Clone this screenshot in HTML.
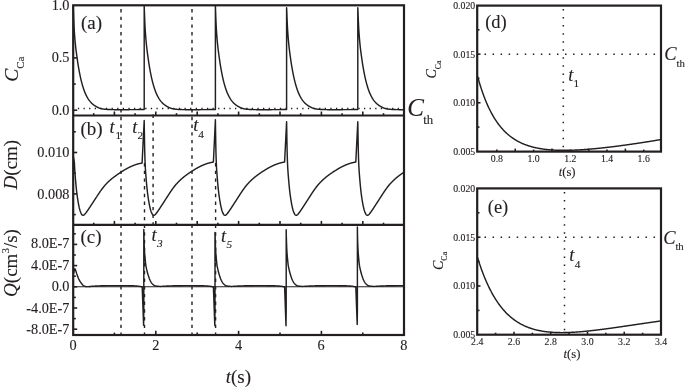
<!DOCTYPE html>
<html><head><meta charset="utf-8"><style>
html,body{margin:0;padding:0;background:#fff;}
svg{display:block;}
text{font-family:"Liberation Serif","DejaVu Serif",serif;fill:#231f20;stroke:#231f20;stroke-width:0.12px;}
</style></head><body>
<svg width="685" height="387" viewBox="0 0 685 387">
<rect width="685" height="387" fill="#fff"/>
<rect x="73.2" y="5.3" width="330.8" height="329.7" fill="none" stroke="#231f20" stroke-width="2.2"/>
<line x1="73.2" y1="115.5" x2="404" y2="115.5" stroke="#231f20" stroke-width="2.2" />
<line x1="73.2" y1="224.9" x2="404" y2="224.9" stroke="#231f20" stroke-width="2.2" />
<line x1="121" y1="9" x2="121" y2="334" stroke="#231f20" stroke-width="1.4" stroke-dasharray="3.4 4.3"/>
<line x1="192" y1="9" x2="192" y2="334" stroke="#231f20" stroke-width="1.4" stroke-dasharray="3.4 4.3"/>
<line x1="144.5" y1="163" x2="144.5" y2="334" stroke="#231f20" stroke-width="1.4" stroke-dasharray="3.4 4.3" stroke-dashoffset="7.7"/>
<line x1="215.6" y1="163" x2="215.6" y2="334" stroke="#231f20" stroke-width="1.4" stroke-dasharray="3.4 4.3" stroke-dashoffset="7.7"/>
<line x1="153.1" y1="114.5" x2="153.1" y2="223.9" stroke="#231f20" stroke-width="1.4" stroke-dasharray="3.4 4.3"/>
<line x1="77.88" y1="108.5" x2="403" y2="108.5" stroke="#231f20" stroke-width="1.35" stroke-dasharray="1.3 4.31"/>
<line x1="73.2" y1="110.2" x2="77.2" y2="110.2" stroke="#231f20" stroke-width="1.6" />
<line x1="73.2" y1="84.05" x2="75.8" y2="84.05" stroke="#231f20" stroke-width="1.6" />
<line x1="73.2" y1="57.9" x2="77.2" y2="57.9" stroke="#231f20" stroke-width="1.6" />
<line x1="93.7" y1="115.5" x2="93.7" y2="113.2" stroke="#231f20" stroke-width="1.6" />
<line x1="114.4" y1="115.5" x2="114.4" y2="111.5" stroke="#231f20" stroke-width="1.6" />
<line x1="135.1" y1="115.5" x2="135.1" y2="113.2" stroke="#231f20" stroke-width="1.6" />
<line x1="155.8" y1="115.5" x2="155.8" y2="111.5" stroke="#231f20" stroke-width="1.6" />
<line x1="176.5" y1="115.5" x2="176.5" y2="113.2" stroke="#231f20" stroke-width="1.6" />
<line x1="197.2" y1="115.5" x2="197.2" y2="111.5" stroke="#231f20" stroke-width="1.6" />
<line x1="217.9" y1="115.5" x2="217.9" y2="113.2" stroke="#231f20" stroke-width="1.6" />
<line x1="238.6" y1="115.5" x2="238.6" y2="111.5" stroke="#231f20" stroke-width="1.6" />
<line x1="259.3" y1="115.5" x2="259.3" y2="113.2" stroke="#231f20" stroke-width="1.6" />
<line x1="280" y1="115.5" x2="280" y2="111.5" stroke="#231f20" stroke-width="1.6" />
<line x1="300.7" y1="115.5" x2="300.7" y2="113.2" stroke="#231f20" stroke-width="1.6" />
<line x1="321.4" y1="115.5" x2="321.4" y2="111.5" stroke="#231f20" stroke-width="1.6" />
<line x1="342.1" y1="115.5" x2="342.1" y2="113.2" stroke="#231f20" stroke-width="1.6" />
<line x1="362.8" y1="115.5" x2="362.8" y2="111.5" stroke="#231f20" stroke-width="1.6" />
<line x1="383.5" y1="115.5" x2="383.5" y2="113.2" stroke="#231f20" stroke-width="1.6" />
<line x1="73.2" y1="214.6" x2="75.8" y2="214.6" stroke="#231f20" stroke-width="1.6" />
<line x1="73.2" y1="193.9" x2="77.2" y2="193.9" stroke="#231f20" stroke-width="1.6" />
<line x1="73.2" y1="173.2" x2="75.8" y2="173.2" stroke="#231f20" stroke-width="1.6" />
<line x1="73.2" y1="152.5" x2="77.2" y2="152.5" stroke="#231f20" stroke-width="1.6" />
<line x1="73.2" y1="131.8" x2="75.8" y2="131.8" stroke="#231f20" stroke-width="1.6" />
<line x1="93.7" y1="224.9" x2="93.7" y2="222.7" stroke="#231f20" stroke-width="1.6" />
<line x1="114.4" y1="224.9" x2="114.4" y2="220.9" stroke="#231f20" stroke-width="1.6" />
<line x1="135.1" y1="224.9" x2="135.1" y2="222.7" stroke="#231f20" stroke-width="1.6" />
<line x1="155.8" y1="224.9" x2="155.8" y2="220.9" stroke="#231f20" stroke-width="1.6" />
<line x1="176.5" y1="224.9" x2="176.5" y2="222.7" stroke="#231f20" stroke-width="1.6" />
<line x1="197.2" y1="224.9" x2="197.2" y2="220.9" stroke="#231f20" stroke-width="1.6" />
<line x1="217.9" y1="224.9" x2="217.9" y2="222.7" stroke="#231f20" stroke-width="1.6" />
<line x1="238.6" y1="224.9" x2="238.6" y2="220.9" stroke="#231f20" stroke-width="1.6" />
<line x1="259.3" y1="224.9" x2="259.3" y2="222.7" stroke="#231f20" stroke-width="1.6" />
<line x1="280" y1="224.9" x2="280" y2="220.9" stroke="#231f20" stroke-width="1.6" />
<line x1="300.7" y1="224.9" x2="300.7" y2="222.7" stroke="#231f20" stroke-width="1.6" />
<line x1="321.4" y1="224.9" x2="321.4" y2="220.9" stroke="#231f20" stroke-width="1.6" />
<line x1="342.1" y1="224.9" x2="342.1" y2="222.7" stroke="#231f20" stroke-width="1.6" />
<line x1="362.8" y1="224.9" x2="362.8" y2="220.9" stroke="#231f20" stroke-width="1.6" />
<line x1="383.5" y1="224.9" x2="383.5" y2="222.7" stroke="#231f20" stroke-width="1.6" />
<line x1="73.2" y1="329.2" x2="77.2" y2="329.2" stroke="#231f20" stroke-width="1.6" />
<line x1="73.2" y1="318.6" x2="75.8" y2="318.6" stroke="#231f20" stroke-width="1.6" />
<line x1="73.2" y1="308" x2="77.2" y2="308" stroke="#231f20" stroke-width="1.6" />
<line x1="73.2" y1="297.4" x2="75.8" y2="297.4" stroke="#231f20" stroke-width="1.6" />
<line x1="73.2" y1="286.8" x2="77.2" y2="286.8" stroke="#231f20" stroke-width="1.6" />
<line x1="73.2" y1="276.2" x2="75.8" y2="276.2" stroke="#231f20" stroke-width="1.6" />
<line x1="73.2" y1="265.6" x2="77.2" y2="265.6" stroke="#231f20" stroke-width="1.6" />
<line x1="73.2" y1="255" x2="75.8" y2="255" stroke="#231f20" stroke-width="1.6" />
<line x1="73.2" y1="244.4" x2="77.2" y2="244.4" stroke="#231f20" stroke-width="1.6" />
<line x1="73.2" y1="233.8" x2="75.8" y2="233.8" stroke="#231f20" stroke-width="1.6" />
<line x1="114.4" y1="335" x2="114.4" y2="332.6" stroke="#231f20" stroke-width="1.6" />
<line x1="155.8" y1="335" x2="155.8" y2="330.8" stroke="#231f20" stroke-width="1.6" />
<line x1="197.2" y1="335" x2="197.2" y2="332.6" stroke="#231f20" stroke-width="1.6" />
<line x1="238.6" y1="335" x2="238.6" y2="330.8" stroke="#231f20" stroke-width="1.6" />
<line x1="280" y1="335" x2="280" y2="332.6" stroke="#231f20" stroke-width="1.6" />
<line x1="321.4" y1="335" x2="321.4" y2="330.8" stroke="#231f20" stroke-width="1.6" />
<line x1="362.8" y1="335" x2="362.8" y2="332.6" stroke="#231f20" stroke-width="1.6" />
<path d="M73.2 5.6 L73.4 11.27 L73.6 16.75 L73.8 21.74 L74 25.99 L74.2 29.51 L74.4 32.61 L74.6 35.39 L74.8 37.91 L75 40.24 L75.2 42.41 L75.4 44.42 L75.6 46.3 L75.8 48.07 L76 49.75 L76.2 51.35 L76.4 52.89 L76.6 54.37 L76.8 55.83 L77 57.26 L77.2 58.67 L77.4 60.07 L77.6 61.44 L77.8 62.77 L78 64.06 L78.2 65.31 L78.4 66.53 L78.6 67.72 L78.8 68.87 L79 69.99 L79.2 71.08 L79.4 72.15 L79.6 73.18 L79.8 74.18 L80 75.16 L80.2 76.11 L80.4 77.04 L80.6 77.94 L80.8 78.82 L81 79.67 L81.2 80.51 L81.4 81.32 L81.6 82.11 L81.8 82.87 L82 83.62 L82.2 84.35 L82.4 85.05 L82.6 85.74 L82.8 86.41 L83 87.06 L83.2 87.69 L83.4 88.31 L83.6 88.91 L83.8 89.49 L84 90.06 L84.2 90.61 L84.4 91.14 L84.6 91.67 L84.8 92.17 L85 92.66 L85.2 93.14 L85.4 93.61 L85.6 94.06 L85.8 94.5 L86 94.93 L86.2 95.34 L86.4 95.74 L86.6 96.13 L86.8 96.51 L87 96.88 L87.2 97.24 L87.4 97.59 L87.6 97.93 L87.8 98.26 L88 98.59 L88.2 98.9 L88.4 99.21 L88.6 99.5 L88.8 99.79 L89 100.08 L89.2 100.35 L89.4 100.62 L89.6 100.88 L89.8 101.14 L90 101.38 L90.2 101.63 L90.4 101.86 L90.6 102.09 L90.8 102.32 L91 102.53 L91.2 102.74 L91.4 102.95 L91.6 103.14 L91.8 103.34 L92 103.52 L92.2 103.71 L92.4 103.89 L92.6 104.06 L92.8 104.23 L93 104.39 L93.2 104.55 L93.4 104.71 L93.6 104.86 L93.8 105.01 L94 105.16 L94.2 105.3 L94.4 105.44 L94.6 105.58 L94.8 105.71 L95 105.84 L95.2 105.97 L95.4 106.09 L95.6 106.21 L95.8 106.33 L96 106.45 L96.2 106.57 L96.4 106.68 L96.6 106.79 L96.8 106.9 L97 107 L97.2 107.11 L97.4 107.21 L97.6 107.31 L97.8 107.4 L98 107.49 L98.2 107.59 L98.4 107.67 L98.6 107.76 L98.8 107.84 L99 107.92 L99.2 108 L99.4 108.07 L99.6 108.14 L99.8 108.21 L100 108.28 L100.2 108.35 L100.4 108.41 L100.6 108.48 L100.8 108.54 L101 108.6 L101.2 108.66 L101.4 108.71 L101.6 108.76 L101.8 108.81 L102 108.86 L102.2 108.9 L102.4 108.93 L102.6 108.97 L102.8 109 L103 109.03 L103.2 109.06 L103.4 109.08 L103.6 109.11 L103.8 109.13 L104 109.15 L104.2 109.17 L104.4 109.19 L104.6 109.21 L104.8 109.23 L105 109.25 L105.2 109.27 L105.4 109.29 L105.6 109.3 L105.8 109.32 L106 109.34 L106.2 109.35 L106.4 109.37 L106.6 109.39 L106.8 109.4 L107 109.42 L107.2 109.43 L107.4 109.44 L107.6 109.45 L107.8 109.47 L108 109.48 L108.2 109.49 L108.4 109.5 L108.6 109.51 L108.8 109.51 L109 109.52 L109.2 109.53 L109.4 109.54 L109.6 109.55 L109.8 109.56 L110 109.56 L110.2 109.57 L110.4 109.58 L110.6 109.58 L110.8 109.59 L111 109.59 L111.2 109.6 L111.4 109.6 L111.6 109.61 L111.8 109.61 L112 109.61 L112.2 109.62 L112.4 109.62 L112.6 109.63 L112.8 109.63 L113 109.63 L113.2 109.64 L113.4 109.64 L113.6 109.64 L113.8 109.64 L114 109.65 L114.2 109.65 L114.4 109.65 L114.6 109.65 L114.8 109.65 L115 109.66 L115.2 109.66 L115.4 109.66 L115.6 109.66 L115.8 109.66 L116 109.66 L116.2 109.66 L116.4 109.66 L116.6 109.66 L116.8 109.67 L117 109.67 L117.2 109.67 L117.4 109.67 L117.6 109.67 L117.8 109.67 L118 109.67 L118.2 109.67 L118.4 109.67 L118.6 109.67 L118.8 109.67 L119 109.67 L119.2 109.67 L119.4 109.67 L119.6 109.67 L119.8 109.67 L120 109.67 L120.2 109.67 L120.4 109.67 L120.6 109.67 L120.8 109.67 L121 109.67 L121.2 109.67 L121.4 109.67 L121.6 109.67 L121.8 109.67 L122 109.67 L122.2 109.67 L122.4 109.67 L122.6 109.67 L122.8 109.67 L123 109.67 L123.2 109.67 L123.4 109.67 L123.6 109.67 L123.8 109.67 L124 109.67 L124.2 109.67 L124.4 109.67 L124.6 109.67 L124.8 109.67 L125 109.67 L125.2 109.66 L125.4 109.66 L125.6 109.66 L125.8 109.66 L126 109.66 L126.2 109.66 L126.4 109.66 L126.6 109.66 L126.8 109.66 L127 109.66 L127.2 109.66 L127.4 109.65 L127.6 109.65 L127.8 109.65 L128 109.65 L128.2 109.65 L128.4 109.65 L128.6 109.65 L128.8 109.65 L129 109.65 L129.2 109.65 L129.4 109.65 L129.6 109.64 L129.8 109.64 L130 109.64 L130.2 109.64 L130.4 109.64 L130.6 109.64 L130.8 109.64 L131 109.64 L131.2 109.64 L131.4 109.63 L131.6 109.63 L131.8 109.63 L132 109.63 L132.2 109.63 L132.4 109.63 L132.6 109.63 L132.8 109.63 L133 109.62 L133.2 109.62 L133.4 109.62 L133.6 109.62 L133.8 109.62 L134 109.62 L134.2 109.62 L134.4 109.61 L134.6 109.61 L134.8 109.61 L135 109.61 L135.2 109.61 L135.4 109.61 L135.6 109.61 L135.8 109.61 L136 109.6 L136.2 109.6 L136.4 109.6 L136.6 109.6 L136.8 109.6 L137 109.6 L137.2 109.6 L137.4 109.6 L137.6 109.59 L137.8 109.59 L138 109.59 L138.2 109.59 L138.4 109.59 L138.6 109.59 L138.8 109.59 L139 109.58 L139.2 109.58 L139.4 109.58 L139.6 109.58 L139.8 109.58 L140 109.58 L140.2 109.58 L140.4 109.57 L140.6 109.57 L140.8 109.57 L141 109.57 L141.2 109.57 L141.4 109.57 L141.6 109.57 L141.8 109.56 L142 109.56 L142.2 109.56 L142.4 109.56 L142.6 109.56 L142.8 109.56 L143 109.56 L143.2 109.55 L143.4 109.55 L143.6 109.55 L143.8 109.55 L144 109.55 L144.2 109.55 L144.2 6.12 L144.4 11.27 L144.6 16.75 L144.8 21.74 L145 25.99 L145.2 29.51 L145.4 32.61 L145.6 35.39 L145.8 37.91 L146 40.24 L146.2 42.41 L146.4 44.42 L146.6 46.3 L146.8 48.07 L147 49.75 L147.2 51.35 L147.4 52.89 L147.6 54.37 L147.8 55.83 L148 57.26 L148.2 58.67 L148.4 60.07 L148.6 61.44 L148.8 62.77 L149 64.06 L149.2 65.31 L149.4 66.53 L149.6 67.72 L149.8 68.87 L150 69.99 L150.2 71.08 L150.4 72.15 L150.6 73.18 L150.8 74.18 L151 75.16 L151.2 76.11 L151.4 77.04 L151.6 77.94 L151.8 78.82 L152 79.67 L152.2 80.51 L152.4 81.32 L152.6 82.11 L152.8 82.87 L153 83.62 L153.2 84.35 L153.4 85.05 L153.6 85.74 L153.8 86.41 L154 87.06 L154.2 87.69 L154.4 88.31 L154.6 88.91 L154.8 89.49 L155 90.06 L155.2 90.61 L155.4 91.14 L155.6 91.67 L155.8 92.17 L156 92.66 L156.2 93.14 L156.4 93.61 L156.6 94.06 L156.8 94.5 L157 94.93 L157.2 95.34 L157.4 95.74 L157.6 96.13 L157.8 96.51 L158 96.88 L158.2 97.24 L158.4 97.59 L158.6 97.93 L158.8 98.26 L159 98.59 L159.2 98.9 L159.4 99.21 L159.6 99.5 L159.8 99.79 L160 100.08 L160.2 100.35 L160.4 100.62 L160.6 100.88 L160.8 101.14 L161 101.38 L161.2 101.63 L161.4 101.86 L161.6 102.09 L161.8 102.32 L162 102.53 L162.2 102.74 L162.4 102.95 L162.6 103.14 L162.8 103.34 L163 103.52 L163.2 103.71 L163.4 103.89 L163.6 104.06 L163.8 104.23 L164 104.39 L164.2 104.55 L164.4 104.71 L164.6 104.86 L164.8 105.01 L165 105.16 L165.2 105.3 L165.4 105.44 L165.6 105.58 L165.8 105.71 L166 105.84 L166.2 105.97 L166.4 106.09 L166.6 106.21 L166.8 106.33 L167 106.45 L167.2 106.57 L167.4 106.68 L167.6 106.79 L167.8 106.9 L168 107 L168.2 107.11 L168.4 107.21 L168.6 107.31 L168.8 107.4 L169 107.49 L169.2 107.59 L169.4 107.67 L169.6 107.76 L169.8 107.84 L170 107.92 L170.2 108 L170.4 108.07 L170.6 108.14 L170.8 108.21 L171 108.28 L171.2 108.35 L171.4 108.41 L171.6 108.48 L171.8 108.54 L172 108.6 L172.2 108.66 L172.4 108.71 L172.6 108.76 L172.8 108.81 L173 108.86 L173.2 108.9 L173.4 108.93 L173.6 108.97 L173.8 109 L174 109.03 L174.2 109.06 L174.4 109.08 L174.6 109.11 L174.8 109.13 L175 109.15 L175.2 109.17 L175.4 109.19 L175.6 109.21 L175.8 109.23 L176 109.25 L176.2 109.27 L176.4 109.29 L176.6 109.3 L176.8 109.32 L177 109.34 L177.2 109.35 L177.4 109.37 L177.6 109.39 L177.8 109.4 L178 109.42 L178.2 109.43 L178.4 109.44 L178.6 109.45 L178.8 109.47 L179 109.48 L179.2 109.49 L179.4 109.5 L179.6 109.51 L179.8 109.51 L180 109.52 L180.2 109.53 L180.4 109.54 L180.6 109.55 L180.8 109.56 L181 109.56 L181.2 109.57 L181.4 109.58 L181.6 109.58 L181.8 109.59 L182 109.59 L182.2 109.6 L182.4 109.6 L182.6 109.61 L182.8 109.61 L183 109.61 L183.2 109.62 L183.4 109.62 L183.6 109.63 L183.8 109.63 L184 109.63 L184.2 109.64 L184.4 109.64 L184.6 109.64 L184.8 109.64 L185 109.65 L185.2 109.65 L185.4 109.65 L185.6 109.65 L185.8 109.65 L186 109.66 L186.2 109.66 L186.4 109.66 L186.6 109.66 L186.8 109.66 L187 109.66 L187.2 109.66 L187.4 109.66 L187.6 109.66 L187.8 109.67 L188 109.67 L188.2 109.67 L188.4 109.67 L188.6 109.67 L188.8 109.67 L189 109.67 L189.2 109.67 L189.4 109.67 L189.6 109.67 L189.8 109.67 L190 109.67 L190.2 109.67 L190.4 109.67 L190.6 109.67 L190.8 109.67 L191 109.67 L191.2 109.67 L191.4 109.67 L191.6 109.67 L191.8 109.67 L192 109.67 L192.2 109.67 L192.4 109.67 L192.6 109.67 L192.8 109.67 L193 109.67 L193.2 109.67 L193.4 109.67 L193.6 109.67 L193.8 109.67 L194 109.67 L194.2 109.67 L194.4 109.67 L194.6 109.67 L194.8 109.67 L195 109.67 L195.2 109.67 L195.4 109.67 L195.6 109.67 L195.8 109.67 L196 109.67 L196.2 109.66 L196.4 109.66 L196.6 109.66 L196.8 109.66 L197 109.66 L197.2 109.66 L197.4 109.66 L197.6 109.66 L197.8 109.66 L198 109.66 L198.2 109.66 L198.4 109.65 L198.6 109.65 L198.8 109.65 L199 109.65 L199.2 109.65 L199.4 109.65 L199.6 109.65 L199.8 109.65 L200 109.65 L200.2 109.65 L200.4 109.65 L200.6 109.64 L200.8 109.64 L201 109.64 L201.2 109.64 L201.4 109.64 L201.6 109.64 L201.8 109.64 L202 109.64 L202.2 109.64 L202.4 109.63 L202.6 109.63 L202.8 109.63 L203 109.63 L203.2 109.63 L203.4 109.63 L203.6 109.63 L203.8 109.63 L204 109.62 L204.2 109.62 L204.4 109.62 L204.6 109.62 L204.8 109.62 L205 109.62 L205.2 109.62 L205.4 109.61 L205.6 109.61 L205.8 109.61 L206 109.61 L206.2 109.61 L206.4 109.61 L206.6 109.61 L206.8 109.61 L207 109.6 L207.2 109.6 L207.4 109.6 L207.6 109.6 L207.8 109.6 L208 109.6 L208.2 109.6 L208.4 109.6 L208.6 109.59 L208.8 109.59 L209 109.59 L209.2 109.59 L209.4 109.59 L209.6 109.59 L209.8 109.59 L210 109.58 L210.2 109.58 L210.4 109.58 L210.6 109.58 L210.8 109.58 L211 109.58 L211.2 109.58 L211.4 109.57 L211.6 109.57 L211.8 109.57 L212 109.57 L212.2 109.57 L212.4 109.57 L212.6 109.57 L212.8 109.56 L213 109.56 L213.2 109.56 L213.4 109.56 L213.6 109.56 L213.8 109.56 L214 109.56 L214.2 109.55 L214.4 109.55 L214.6 109.55 L214.8 109.55 L215 109.55 L215.2 109.55 L215.4 109.55 L215.4 6.12 L215.6 11.27 L215.8 16.75 L216 21.74 L216.2 25.99 L216.4 29.51 L216.6 32.61 L216.8 35.39 L217 37.91 L217.2 40.24 L217.4 42.41 L217.6 44.42 L217.8 46.3 L218 48.07 L218.2 49.75 L218.4 51.35 L218.6 52.89 L218.8 54.37 L219 55.83 L219.2 57.26 L219.4 58.67 L219.6 60.07 L219.8 61.44 L220 62.77 L220.2 64.06 L220.4 65.31 L220.6 66.53 L220.8 67.72 L221 68.87 L221.2 69.99 L221.4 71.08 L221.6 72.15 L221.8 73.18 L222 74.18 L222.2 75.16 L222.4 76.11 L222.6 77.04 L222.8 77.94 L223 78.82 L223.2 79.67 L223.4 80.51 L223.6 81.32 L223.8 82.11 L224 82.87 L224.2 83.62 L224.4 84.35 L224.6 85.05 L224.8 85.74 L225 86.41 L225.2 87.06 L225.4 87.69 L225.6 88.31 L225.8 88.91 L226 89.49 L226.2 90.06 L226.4 90.61 L226.6 91.14 L226.8 91.67 L227 92.17 L227.2 92.66 L227.4 93.14 L227.6 93.61 L227.8 94.06 L228 94.5 L228.2 94.93 L228.4 95.34 L228.6 95.74 L228.8 96.13 L229 96.51 L229.2 96.88 L229.4 97.24 L229.6 97.59 L229.8 97.93 L230 98.26 L230.2 98.59 L230.4 98.9 L230.6 99.21 L230.8 99.5 L231 99.79 L231.2 100.08 L231.4 100.35 L231.6 100.62 L231.8 100.88 L232 101.14 L232.2 101.38 L232.4 101.63 L232.6 101.86 L232.8 102.09 L233 102.32 L233.2 102.53 L233.4 102.74 L233.6 102.95 L233.8 103.14 L234 103.34 L234.2 103.52 L234.4 103.71 L234.6 103.89 L234.8 104.06 L235 104.23 L235.2 104.39 L235.4 104.55 L235.6 104.71 L235.8 104.86 L236 105.01 L236.2 105.16 L236.4 105.3 L236.6 105.44 L236.8 105.58 L237 105.71 L237.2 105.84 L237.4 105.97 L237.6 106.09 L237.8 106.21 L238 106.33 L238.2 106.45 L238.4 106.57 L238.6 106.68 L238.8 106.79 L239 106.9 L239.2 107 L239.4 107.11 L239.6 107.21 L239.8 107.31 L240 107.4 L240.2 107.49 L240.4 107.59 L240.6 107.67 L240.8 107.76 L241 107.84 L241.2 107.92 L241.4 108 L241.6 108.07 L241.8 108.14 L242 108.21 L242.2 108.28 L242.4 108.35 L242.6 108.41 L242.8 108.48 L243 108.54 L243.2 108.6 L243.4 108.66 L243.6 108.71 L243.8 108.76 L244 108.81 L244.2 108.86 L244.4 108.9 L244.6 108.93 L244.8 108.97 L245 109 L245.2 109.03 L245.4 109.06 L245.6 109.08 L245.8 109.11 L246 109.13 L246.2 109.15 L246.4 109.17 L246.6 109.19 L246.8 109.21 L247 109.23 L247.2 109.25 L247.4 109.27 L247.6 109.29 L247.8 109.3 L248 109.32 L248.2 109.34 L248.4 109.35 L248.6 109.37 L248.8 109.39 L249 109.4 L249.2 109.42 L249.4 109.43 L249.6 109.44 L249.8 109.45 L250 109.47 L250.2 109.48 L250.4 109.49 L250.6 109.5 L250.8 109.51 L251 109.51 L251.2 109.52 L251.4 109.53 L251.6 109.54 L251.8 109.55 L252 109.56 L252.2 109.56 L252.4 109.57 L252.6 109.58 L252.8 109.58 L253 109.59 L253.2 109.59 L253.4 109.6 L253.6 109.6 L253.8 109.61 L254 109.61 L254.2 109.61 L254.4 109.62 L254.6 109.62 L254.8 109.63 L255 109.63 L255.2 109.63 L255.4 109.64 L255.6 109.64 L255.8 109.64 L256 109.64 L256.2 109.65 L256.4 109.65 L256.6 109.65 L256.8 109.65 L257 109.65 L257.2 109.66 L257.4 109.66 L257.6 109.66 L257.8 109.66 L258 109.66 L258.2 109.66 L258.4 109.66 L258.6 109.66 L258.8 109.66 L259 109.67 L259.2 109.67 L259.4 109.67 L259.6 109.67 L259.8 109.67 L260 109.67 L260.2 109.67 L260.4 109.67 L260.6 109.67 L260.8 109.67 L261 109.67 L261.2 109.67 L261.4 109.67 L261.6 109.67 L261.8 109.67 L262 109.67 L262.2 109.67 L262.4 109.67 L262.6 109.67 L262.8 109.67 L263 109.67 L263.2 109.67 L263.4 109.67 L263.6 109.67 L263.8 109.67 L264 109.67 L264.2 109.67 L264.4 109.67 L264.6 109.67 L264.8 109.67 L265 109.67 L265.2 109.67 L265.4 109.67 L265.6 109.67 L265.8 109.67 L266 109.67 L266.2 109.67 L266.4 109.67 L266.6 109.67 L266.8 109.67 L267 109.67 L267.2 109.67 L267.4 109.66 L267.6 109.66 L267.8 109.66 L268 109.66 L268.2 109.66 L268.4 109.66 L268.6 109.66 L268.8 109.66 L269 109.66 L269.2 109.66 L269.4 109.66 L269.6 109.65 L269.8 109.65 L270 109.65 L270.2 109.65 L270.4 109.65 L270.6 109.65 L270.8 109.65 L271 109.65 L271.2 109.65 L271.4 109.65 L271.6 109.65 L271.8 109.64 L272 109.64 L272.2 109.64 L272.4 109.64 L272.6 109.64 L272.8 109.64 L273 109.64 L273.2 109.64 L273.4 109.64 L273.6 109.63 L273.8 109.63 L274 109.63 L274.2 109.63 L274.4 109.63 L274.6 109.63 L274.8 109.63 L275 109.63 L275.2 109.62 L275.4 109.62 L275.6 109.62 L275.8 109.62 L276 109.62 L276.2 109.62 L276.4 109.62 L276.6 109.61 L276.8 109.61 L277 109.61 L277.2 109.61 L277.4 109.61 L277.6 109.61 L277.8 109.61 L278 109.61 L278.2 109.6 L278.4 109.6 L278.6 109.6 L278.8 109.6 L279 109.6 L279.2 109.6 L279.4 109.6 L279.6 109.6 L279.8 109.59 L280 109.59 L280.2 109.59 L280.4 109.59 L280.6 109.59 L280.8 109.59 L281 109.59 L281.2 109.58 L281.4 109.58 L281.6 109.58 L281.8 109.58 L282 109.58 L282.2 109.58 L282.4 109.58 L282.6 109.57 L282.8 109.57 L283 109.57 L283.2 109.57 L283.4 109.57 L283.6 109.57 L283.8 109.57 L284 109.56 L284.2 109.56 L284.4 109.56 L284.6 109.56 L284.8 109.56 L285 109.56 L285.2 109.56 L285.4 109.55 L285.6 109.55 L285.8 109.55 L286 109.55 L286.2 109.55 L286.4 109.55 L286.6 109.55 L286.6 109.55 L286.6 7.8 L286.8 11.27 L287 16.75 L287.2 21.74 L287.4 25.99 L287.6 29.51 L287.8 32.61 L288 35.39 L288.2 37.91 L288.4 40.24 L288.6 42.41 L288.8 44.42 L289 46.3 L289.2 48.07 L289.4 49.75 L289.6 51.35 L289.8 52.89 L290 54.37 L290.2 55.83 L290.4 57.26 L290.6 58.67 L290.8 60.07 L291 61.44 L291.2 62.77 L291.4 64.06 L291.6 65.31 L291.8 66.53 L292 67.72 L292.2 68.87 L292.4 69.99 L292.6 71.08 L292.8 72.15 L293 73.18 L293.2 74.18 L293.4 75.16 L293.6 76.11 L293.8 77.04 L294 77.94 L294.2 78.82 L294.4 79.67 L294.6 80.51 L294.8 81.32 L295 82.11 L295.2 82.87 L295.4 83.62 L295.6 84.35 L295.8 85.05 L296 85.74 L296.2 86.41 L296.4 87.06 L296.6 87.69 L296.8 88.31 L297 88.91 L297.2 89.49 L297.4 90.06 L297.6 90.61 L297.8 91.14 L298 91.67 L298.2 92.17 L298.4 92.66 L298.6 93.14 L298.8 93.61 L299 94.06 L299.2 94.5 L299.4 94.93 L299.6 95.34 L299.8 95.74 L300 96.13 L300.2 96.51 L300.4 96.88 L300.6 97.24 L300.8 97.59 L301 97.93 L301.2 98.26 L301.4 98.59 L301.6 98.9 L301.8 99.21 L302 99.5 L302.2 99.79 L302.4 100.08 L302.6 100.35 L302.8 100.62 L303 100.88 L303.2 101.14 L303.4 101.38 L303.6 101.63 L303.8 101.86 L304 102.09 L304.2 102.32 L304.4 102.53 L304.6 102.74 L304.8 102.95 L305 103.14 L305.2 103.34 L305.4 103.52 L305.6 103.71 L305.8 103.89 L306 104.06 L306.2 104.23 L306.4 104.39 L306.6 104.55 L306.8 104.71 L307 104.86 L307.2 105.01 L307.4 105.16 L307.6 105.3 L307.8 105.44 L308 105.58 L308.2 105.71 L308.4 105.84 L308.6 105.97 L308.8 106.09 L309 106.21 L309.2 106.33 L309.4 106.45 L309.6 106.57 L309.8 106.68 L310 106.79 L310.2 106.9 L310.4 107 L310.6 107.11 L310.8 107.21 L311 107.31 L311.2 107.4 L311.4 107.49 L311.6 107.59 L311.8 107.67 L312 107.76 L312.2 107.84 L312.4 107.92 L312.6 108 L312.8 108.07 L313 108.14 L313.2 108.21 L313.4 108.28 L313.6 108.35 L313.8 108.41 L314 108.48 L314.2 108.54 L314.4 108.6 L314.6 108.66 L314.8 108.71 L315 108.76 L315.2 108.81 L315.4 108.86 L315.6 108.9 L315.8 108.93 L316 108.97 L316.2 109 L316.4 109.03 L316.6 109.06 L316.8 109.08 L317 109.11 L317.2 109.13 L317.4 109.15 L317.6 109.17 L317.8 109.19 L318 109.21 L318.2 109.23 L318.4 109.25 L318.6 109.27 L318.8 109.29 L319 109.3 L319.2 109.32 L319.4 109.34 L319.6 109.35 L319.8 109.37 L320 109.39 L320.2 109.4 L320.4 109.42 L320.6 109.43 L320.8 109.44 L321 109.45 L321.2 109.47 L321.4 109.48 L321.6 109.49 L321.8 109.5 L322 109.51 L322.2 109.51 L322.4 109.52 L322.6 109.53 L322.8 109.54 L323 109.55 L323.2 109.56 L323.4 109.56 L323.6 109.57 L323.8 109.58 L324 109.58 L324.2 109.59 L324.4 109.59 L324.6 109.6 L324.8 109.6 L325 109.61 L325.2 109.61 L325.4 109.61 L325.6 109.62 L325.8 109.62 L326 109.63 L326.2 109.63 L326.4 109.63 L326.6 109.64 L326.8 109.64 L327 109.64 L327.2 109.64 L327.4 109.65 L327.6 109.65 L327.8 109.65 L328 109.65 L328.2 109.65 L328.4 109.66 L328.6 109.66 L328.8 109.66 L329 109.66 L329.2 109.66 L329.4 109.66 L329.6 109.66 L329.8 109.66 L330 109.66 L330.2 109.67 L330.4 109.67 L330.6 109.67 L330.8 109.67 L331 109.67 L331.2 109.67 L331.4 109.67 L331.6 109.67 L331.8 109.67 L332 109.67 L332.2 109.67 L332.4 109.67 L332.6 109.67 L332.8 109.67 L333 109.67 L333.2 109.67 L333.4 109.67 L333.6 109.67 L333.8 109.67 L334 109.67 L334.2 109.67 L334.4 109.67 L334.6 109.67 L334.8 109.67 L335 109.67 L335.2 109.67 L335.4 109.67 L335.6 109.67 L335.8 109.67 L336 109.67 L336.2 109.67 L336.4 109.67 L336.6 109.67 L336.8 109.67 L337 109.67 L337.2 109.67 L337.4 109.67 L337.6 109.67 L337.8 109.67 L338 109.67 L338.2 109.67 L338.4 109.67 L338.6 109.66 L338.8 109.66 L339 109.66 L339.2 109.66 L339.4 109.66 L339.6 109.66 L339.8 109.66 L340 109.66 L340.2 109.66 L340.4 109.66 L340.6 109.66 L340.8 109.65 L341 109.65 L341.2 109.65 L341.4 109.65 L341.6 109.65 L341.8 109.65 L342 109.65 L342.2 109.65 L342.4 109.65 L342.6 109.65 L342.8 109.65 L343 109.64 L343.2 109.64 L343.4 109.64 L343.6 109.64 L343.8 109.64 L344 109.64 L344.2 109.64 L344.4 109.64 L344.6 109.64 L344.8 109.63 L345 109.63 L345.2 109.63 L345.4 109.63 L345.6 109.63 L345.8 109.63 L346 109.63 L346.2 109.63 L346.4 109.62 L346.6 109.62 L346.8 109.62 L347 109.62 L347.2 109.62 L347.4 109.62 L347.6 109.62 L347.8 109.61 L348 109.61 L348.2 109.61 L348.4 109.61 L348.6 109.61 L348.8 109.61 L349 109.61 L349.2 109.61 L349.4 109.6 L349.6 109.6 L349.8 109.6 L350 109.6 L350.2 109.6 L350.4 109.6 L350.6 109.6 L350.8 109.6 L351 109.59 L351.2 109.59 L351.4 109.59 L351.6 109.59 L351.8 109.59 L352 109.59 L352.2 109.59 L352.4 109.58 L352.6 109.58 L352.8 109.58 L353 109.58 L353.2 109.58 L353.4 109.58 L353.6 109.58 L353.8 109.57 L354 109.57 L354.2 109.57 L354.4 109.57 L354.6 109.57 L354.8 109.57 L355 109.57 L355.2 109.56 L355.4 109.56 L355.6 109.56 L355.8 109.56 L356 109.56 L356.2 109.56 L356.4 109.56 L356.6 109.55 L356.8 109.55 L357 109.55 L357.2 109.55 L357.4 109.55 L357.6 109.55 L357.8 109.55 L357.8 7.8 L358 11.27 L358.2 16.75 L358.4 21.74 L358.6 25.99 L358.8 29.51 L359 32.61 L359.2 35.39 L359.4 37.91 L359.6 40.24 L359.8 42.41 L360 44.42 L360.2 46.3 L360.4 48.07 L360.6 49.75 L360.8 51.35 L361 52.89 L361.2 54.37 L361.4 55.83 L361.6 57.26 L361.8 58.67 L362 60.07 L362.2 61.44 L362.4 62.77 L362.6 64.06 L362.8 65.31 L363 66.53 L363.2 67.72 L363.4 68.87 L363.6 69.99 L363.8 71.08 L364 72.15 L364.2 73.18 L364.4 74.18 L364.6 75.16 L364.8 76.11 L365 77.04 L365.2 77.94 L365.4 78.82 L365.6 79.67 L365.8 80.51 L366 81.32 L366.2 82.11 L366.4 82.87 L366.6 83.62 L366.8 84.35 L367 85.05 L367.2 85.74 L367.4 86.41 L367.6 87.06 L367.8 87.69 L368 88.31 L368.2 88.91 L368.4 89.49 L368.6 90.06 L368.8 90.61 L369 91.14 L369.2 91.67 L369.4 92.17 L369.6 92.66 L369.8 93.14 L370 93.61 L370.2 94.06 L370.4 94.5 L370.6 94.93 L370.8 95.34 L371 95.74 L371.2 96.13 L371.4 96.51 L371.6 96.88 L371.8 97.24 L372 97.59 L372.2 97.93 L372.4 98.26 L372.6 98.59 L372.8 98.9 L373 99.21 L373.2 99.5 L373.4 99.79 L373.6 100.08 L373.8 100.35 L374 100.62 L374.2 100.88 L374.4 101.14 L374.6 101.38 L374.8 101.63 L375 101.86 L375.2 102.09 L375.4 102.32 L375.6 102.53 L375.8 102.74 L376 102.95 L376.2 103.14 L376.4 103.34 L376.6 103.52 L376.8 103.71 L377 103.89 L377.2 104.06 L377.4 104.23 L377.6 104.39 L377.8 104.55 L378 104.71 L378.2 104.86 L378.4 105.01 L378.6 105.16 L378.8 105.3 L379 105.44 L379.2 105.58 L379.4 105.71 L379.6 105.84 L379.8 105.97 L380 106.09 L380.2 106.21 L380.4 106.33 L380.6 106.45 L380.8 106.57 L381 106.68 L381.2 106.79 L381.4 106.9 L381.6 107 L381.8 107.11 L382 107.21 L382.2 107.31 L382.4 107.4 L382.6 107.49 L382.8 107.59 L383 107.67 L383.2 107.76 L383.4 107.84 L383.6 107.92 L383.8 108 L384 108.07 L384.2 108.14 L384.4 108.21 L384.6 108.28 L384.8 108.35 L385 108.41 L385.2 108.48 L385.4 108.54 L385.6 108.6 L385.8 108.66 L386 108.71 L386.2 108.76 L386.4 108.81 L386.6 108.86 L386.8 108.9 L387 108.93 L387.2 108.97 L387.4 109 L387.6 109.03 L387.8 109.06 L388 109.08 L388.2 109.11 L388.4 109.13 L388.6 109.15 L388.8 109.17 L389 109.19 L389.2 109.21 L389.4 109.23 L389.6 109.25 L389.8 109.27 L390 109.29 L390.2 109.3 L390.4 109.32 L390.6 109.34 L390.8 109.35 L391 109.37 L391.2 109.39 L391.4 109.4 L391.6 109.42 L391.8 109.43 L392 109.44 L392.2 109.45 L392.4 109.47 L392.6 109.48 L392.8 109.49 L393 109.5 L393.2 109.51 L393.4 109.51 L393.6 109.52 L393.8 109.53 L394 109.54 L394.2 109.55 L394.4 109.56 L394.6 109.56 L394.8 109.57 L395 109.58 L395.2 109.58 L395.4 109.59 L395.6 109.59 L395.8 109.6 L396 109.6 L396.2 109.61 L396.4 109.61 L396.6 109.61 L396.8 109.62 L397 109.62 L397.2 109.63 L397.4 109.63 L397.6 109.63 L397.8 109.64 L398 109.64 L398.2 109.64 L398.4 109.64 L398.6 109.65 L398.8 109.65 L399 109.65 L399.2 109.65 L399.4 109.65 L399.6 109.66 L399.8 109.66 L400 109.66 L400.2 109.66 L400.4 109.66 L400.6 109.66 L400.8 109.66 L401 109.66 L401.2 109.66 L401.4 109.67 L401.6 109.67 L401.8 109.67 L402 109.67 L402.2 109.67 L402.4 109.67 L402.6 109.67 L402.8 109.67 L403 109.67 L403.2 109.67 L403.4 109.67 L403.5 109.67" fill="none" stroke="#231f20" stroke-width="1.45" stroke-linejoin="round" />
<path d="M73.5 157 L74.4 162.76 L74.6 166.95 L74.8 170.34 L75 173.2 L75.19 175.77 L75.39 178.22 L75.59 180.6 L75.79 182.89 L75.99 185.08 L76.19 187.16 L76.39 189.13 L76.58 190.97 L76.78 192.69 L76.98 194.27 L77.18 195.71 L77.38 197.09 L77.58 198.42 L77.78 199.71 L77.97 200.93 L78.17 202.11 L78.37 203.24 L78.57 204.31 L78.77 205.33 L78.97 206.29 L79.16 207.2 L79.36 208.06 L79.56 208.86 L79.76 209.6 L79.96 210.29 L80.16 210.93 L80.36 211.52 L80.55 212.06 L80.75 212.55 L80.95 213 L81.15 213.43 L81.35 213.86 L81.55 214.25 L81.75 214.58 L81.94 214.82 L82.14 214.96 L82.34 215.06 L82.54 215.13 L82.74 215.2 L82.94 215.26 L83.14 215.3 L83.33 215.27 L83.53 215.21 L83.73 215.12 L83.93 215 L84.13 214.85 L84.33 214.67 L84.53 214.48 L84.72 214.28 L84.92 214.06 L85.12 213.84 L85.32 213.6 L85.52 213.35 L85.72 213.1 L85.92 212.84 L86.11 212.58 L86.31 212.31 L86.51 212.04 L86.71 211.76 L86.91 211.48 L87.11 211.2 L87.3 210.92 L87.5 210.63 L87.7 210.34 L87.9 210.05 L88.1 209.76 L88.3 209.47 L88.5 209.18 L88.69 208.89 L88.89 208.59 L89.09 208.29 L89.29 208 L89.49 207.7 L89.69 207.4 L89.89 207.1 L90.08 206.8 L90.28 206.51 L90.48 206.21 L90.68 205.91 L90.88 205.61 L91.08 205.3 L91.28 205 L91.47 204.7 L91.67 204.4 L91.87 204.1 L92.07 203.79 L92.27 203.49 L92.47 203.19 L92.67 202.89 L92.86 202.58 L93.06 202.28 L93.26 201.98 L93.46 201.67 L93.66 201.37 L93.86 201.07 L94.06 200.76 L94.25 200.46 L94.45 200.16 L94.65 199.85 L94.85 199.55 L95.05 199.25 L95.25 198.94 L95.44 198.64 L95.64 198.34 L95.84 198.03 L96.04 197.73 L96.24 197.43 L96.44 197.12 L96.64 196.82 L96.83 196.52 L97.03 196.21 L97.23 195.91 L97.43 195.61 L97.63 195.3 L97.83 195 L98.03 194.7 L98.22 194.4 L98.42 194.1 L98.62 193.8 L98.82 193.5 L99.02 193.2 L99.22 192.91 L99.42 192.62 L99.61 192.32 L99.81 192.04 L100.01 191.75 L100.21 191.46 L100.41 191.18 L100.61 190.9 L100.81 190.62 L101 190.34 L101.2 190.07 L101.4 189.79 L101.6 189.52 L101.8 189.25 L102 188.99 L102.2 188.72 L102.39 188.46 L102.59 188.2 L102.79 187.94 L102.99 187.68 L103.19 187.43 L103.39 187.18 L103.58 186.93 L103.78 186.68 L103.98 186.44 L104.18 186.2 L104.38 185.96 L104.58 185.73 L104.78 185.5 L104.97 185.27 L105.17 185.04 L105.37 184.82 L105.57 184.59 L105.77 184.38 L105.97 184.16 L106.17 183.95 L106.36 183.73 L106.56 183.53 L106.76 183.32 L106.96 183.12 L107.16 182.92 L107.36 182.72 L107.56 182.52 L107.75 182.32 L107.95 182.13 L108.15 181.94 L108.35 181.75 L108.55 181.56 L108.75 181.38 L108.95 181.19 L109.14 181.01 L109.34 180.83 L109.54 180.65 L109.74 180.47 L109.94 180.3 L110.14 180.12 L110.33 179.95 L110.53 179.78 L110.73 179.61 L110.93 179.44 L111.13 179.27 L111.33 179.1 L111.53 178.94 L111.72 178.78 L111.92 178.61 L112.12 178.45 L112.32 178.29 L112.52 178.14 L112.72 177.98 L112.92 177.83 L113.11 177.67 L113.31 177.52 L113.51 177.37 L113.71 177.22 L113.91 177.07 L114.11 176.92 L114.31 176.77 L114.5 176.63 L114.7 176.48 L114.9 176.34 L115.1 176.19 L115.3 176.05 L115.5 175.9 L115.7 175.75 L115.89 175.61 L116.09 175.46 L116.29 175.32 L116.49 175.18 L116.69 175.03 L116.89 174.89 L117.09 174.75 L117.28 174.61 L117.48 174.47 L117.68 174.33 L117.88 174.2 L118.08 174.06 L118.28 173.92 L118.47 173.79 L118.67 173.65 L118.87 173.52 L119.07 173.38 L119.27 173.25 L119.47 173.12 L119.67 172.98 L119.86 172.85 L120.06 172.72 L120.26 172.59 L120.46 172.46 L120.66 172.33 L120.86 172.2 L121.06 172.07 L121.25 171.94 L121.45 171.82 L121.65 171.69 L121.85 171.56 L122.05 171.44 L122.25 171.31 L122.45 171.19 L122.64 171.06 L122.84 170.94 L123.04 170.82 L123.24 170.69 L123.44 170.57 L123.64 170.45 L123.84 170.33 L124.03 170.21 L124.23 170.09 L124.43 169.97 L124.63 169.85 L124.83 169.74 L125.03 169.62 L125.23 169.5 L125.42 169.39 L125.62 169.27 L125.82 169.16 L126.02 169.05 L126.22 168.93 L126.42 168.82 L126.61 168.71 L126.81 168.6 L127.01 168.49 L127.21 168.39 L127.41 168.28 L127.61 168.17 L127.81 168.07 L128 167.96 L128.2 167.86 L128.4 167.76 L128.6 167.65 L128.8 167.55 L129 167.45 L129.2 167.35 L129.39 167.25 L129.59 167.16 L129.79 167.06 L129.99 166.97 L130.19 166.87 L130.39 166.78 L130.59 166.68 L130.78 166.59 L130.98 166.5 L131.18 166.41 L131.38 166.32 L131.58 166.24 L131.78 166.15 L131.98 166.06 L132.17 165.98 L132.37 165.89 L132.57 165.81 L132.77 165.73 L132.97 165.65 L133.17 165.57 L133.37 165.49 L133.56 165.41 L133.76 165.33 L133.96 165.26 L134.16 165.18 L134.36 165.11 L134.56 165.04 L134.75 164.96 L134.95 164.89 L135.15 164.82 L135.35 164.76 L135.55 164.69 L135.75 164.62 L135.95 164.56 L136.14 164.49 L136.34 164.43 L136.54 164.37 L136.74 164.3 L136.94 164.24 L137.14 164.19 L137.34 164.13 L137.53 164.07 L137.73 164.02 L137.93 163.96 L138.13 163.91 L138.33 163.86 L138.53 163.8 L138.73 163.75 L138.92 163.71 L139.12 163.66 L139.32 163.61 L139.52 163.57 L139.72 163.52 L139.92 163.48 L140.12 163.44 L140.31 163.39 L140.51 163.35 L140.71 163.32 L140.91 163.28 L141.11 163.24 L141.31 163.21 L141.51 163.17 L141.7 163.14 L141.9 163.11 L142.1 163.07 L144.2 120.5 L144.35 130.15 L144.55 142.62 L144.75 151.93 L144.95 158.69 L145.15 163.93 L145.35 167.86 L145.55 171.09 L145.75 173.86 L145.95 176.38 L146.15 178.82 L146.35 181.18 L146.55 183.45 L146.75 185.61 L146.95 187.66 L147.15 189.6 L147.35 191.41 L147.55 193.1 L147.75 194.64 L147.95 196.06 L148.15 197.43 L148.35 198.75 L148.55 200.02 L148.75 201.23 L148.95 202.4 L149.15 203.51 L149.35 204.57 L149.55 205.57 L149.75 206.53 L149.95 207.42 L150.15 208.26 L150.35 209.05 L150.55 209.78 L150.75 210.45 L150.95 211.08 L151.15 211.66 L151.35 212.18 L151.55 212.67 L151.75 213.11 L151.95 213.54 L152.15 213.96 L152.35 214.34 L152.55 214.65 L152.75 214.86 L152.95 214.99 L153.15 215.08 L153.35 215.15 L153.55 215.21 L153.75 215.28 L153.95 215.29 L154.15 215.26 L154.35 215.19 L154.55 215.09 L154.75 214.96 L154.95 214.81 L155.15 214.63 L155.35 214.43 L155.55 214.23 L155.75 214.01 L155.95 213.78 L156.15 213.54 L156.35 213.29 L156.55 213.03 L156.75 212.76 L156.95 212.49 L157.15 212.21 L157.35 211.93 L157.55 211.64 L157.75 211.36 L157.95 211.07 L158.15 210.78 L158.35 210.49 L158.55 210.19 L158.75 209.9 L158.95 209.6 L159.15 209.3 L159.35 209 L159.55 208.7 L159.75 208.4 L159.95 208.09 L160.15 207.79 L160.35 207.49 L160.55 207.18 L160.75 206.88 L160.95 206.57 L161.15 206.27 L161.35 205.96 L161.55 205.65 L161.75 205.34 L161.95 205.04 L162.15 204.73 L162.35 204.42 L162.55 204.11 L162.75 203.8 L162.95 203.49 L163.15 203.18 L163.35 202.87 L163.55 202.57 L163.75 202.26 L163.95 201.95 L164.15 201.64 L164.35 201.33 L164.55 201.02 L164.75 200.71 L164.95 200.4 L165.15 200.09 L165.35 199.78 L165.55 199.47 L165.75 199.16 L165.95 198.85 L166.15 198.54 L166.35 198.23 L166.55 197.92 L166.75 197.61 L166.95 197.3 L167.15 196.99 L167.35 196.68 L167.55 196.37 L167.75 196.06 L167.95 195.75 L168.15 195.44 L168.35 195.13 L168.55 194.82 L168.75 194.51 L168.95 194.2 L169.15 193.89 L169.35 193.58 L169.55 193.28 L169.75 192.97 L169.95 192.67 L170.15 192.37 L170.35 192.07 L170.55 191.77 L170.75 191.48 L170.95 191.19 L171.15 190.89 L171.35 190.6 L171.55 190.32 L171.75 190.03 L171.95 189.75 L172.15 189.47 L172.35 189.19 L172.55 188.91 L172.75 188.63 L172.95 188.36 L173.15 188.09 L173.35 187.82 L173.55 187.55 L173.75 187.29 L173.95 187.03 L174.15 186.77 L174.35 186.51 L174.55 186.26 L174.75 186 L174.95 185.76 L175.15 185.51 L175.35 185.27 L175.55 185.02 L175.75 184.79 L175.95 184.55 L176.15 184.32 L176.35 184.09 L176.55 183.86 L176.75 183.64 L176.95 183.41 L177.15 183.19 L177.35 182.98 L177.55 182.76 L177.75 182.55 L177.95 182.34 L178.15 182.13 L178.35 181.93 L178.55 181.73 L178.75 181.52 L178.95 181.33 L179.15 181.13 L179.35 180.93 L179.55 180.74 L179.75 180.55 L179.95 180.36 L180.15 180.17 L180.35 179.98 L180.55 179.79 L180.75 179.61 L180.95 179.43 L181.15 179.25 L181.35 179.07 L181.55 178.89 L181.75 178.71 L181.95 178.54 L182.15 178.36 L182.35 178.19 L182.55 178.02 L182.75 177.85 L182.95 177.68 L183.15 177.52 L183.35 177.35 L183.55 177.19 L183.75 177.02 L183.95 176.86 L184.15 176.7 L184.35 176.54 L184.55 176.38 L184.75 176.23 L184.95 176.07 L185.15 175.92 L185.35 175.76 L185.55 175.61 L185.75 175.46 L185.95 175.31 L186.15 175.16 L186.35 175.01 L186.55 174.86 L186.75 174.72 L186.95 174.57 L187.15 174.43 L187.35 174.28 L187.55 174.14 L187.75 174 L187.95 173.86 L188.15 173.72 L188.35 173.58 L188.55 173.44 L188.75 173.3 L188.95 173.16 L189.15 173.02 L189.35 172.89 L189.55 172.75 L189.75 172.62 L189.95 172.48 L190.15 172.35 L190.35 172.22 L190.55 172.08 L190.75 171.95 L190.95 171.82 L191.15 171.69 L191.35 171.56 L191.55 171.43 L191.75 171.3 L191.95 171.17 L192.15 171.04 L192.35 170.91 L192.55 170.78 L192.75 170.66 L192.95 170.53 L193.15 170.41 L193.35 170.28 L193.55 170.16 L193.75 170.03 L193.95 169.91 L194.15 169.79 L194.35 169.66 L194.55 169.54 L194.75 169.42 L194.95 169.3 L195.15 169.18 L195.35 169.06 L195.55 168.94 L195.75 168.82 L195.95 168.71 L196.15 168.59 L196.35 168.47 L196.55 168.36 L196.75 168.24 L196.95 168.13 L197.15 168.02 L197.35 167.91 L197.55 167.8 L197.75 167.68 L197.95 167.58 L198.15 167.47 L198.35 167.36 L198.55 167.25 L198.75 167.15 L198.95 167.04 L199.15 166.94 L199.35 166.83 L199.55 166.73 L199.75 166.63 L199.95 166.53 L200.15 166.43 L200.35 166.33 L200.55 166.23 L200.75 166.13 L200.95 166.04 L201.15 165.94 L201.35 165.85 L201.55 165.75 L201.75 165.66 L201.95 165.57 L202.15 165.48 L202.35 165.39 L202.55 165.3 L202.75 165.21 L202.95 165.13 L203.15 165.04 L203.35 164.96 L203.55 164.87 L203.75 164.79 L203.95 164.71 L204.15 164.63 L204.35 164.55 L204.55 164.47 L204.75 164.39 L204.95 164.32 L205.15 164.24 L205.35 164.16 L205.55 164.09 L205.75 164.02 L205.95 163.95 L206.15 163.88 L206.35 163.81 L206.55 163.74 L206.75 163.67 L206.95 163.6 L207.15 163.54 L207.35 163.48 L207.55 163.41 L207.75 163.35 L207.95 163.29 L208.15 163.23 L208.35 163.17 L208.55 163.11 L208.75 163.06 L208.95 163 L209.15 162.95 L209.35 162.89 L209.55 162.84 L209.75 162.79 L209.95 162.74 L210.15 162.69 L210.35 162.65 L210.55 162.6 L210.75 162.55 L210.95 162.51 L211.15 162.47 L211.35 162.42 L211.55 162.38 L211.75 162.34 L211.95 162.31 L212.15 162.27 L212.35 162.23 L212.55 162.2 L212.75 162.16 L212.95 162.13 L213.15 162.1 L213.35 162.07 L213.4 162.06 L215.4 119.8 L215.55 130.15 L215.75 142.62 L215.95 151.93 L216.15 158.69 L216.35 163.93 L216.55 167.86 L216.75 171.09 L216.95 173.86 L217.15 176.38 L217.35 178.82 L217.55 181.18 L217.75 183.45 L217.95 185.61 L218.15 187.66 L218.35 189.6 L218.55 191.41 L218.75 193.1 L218.95 194.64 L219.15 196.06 L219.35 197.43 L219.55 198.75 L219.75 200.02 L219.95 201.23 L220.15 202.4 L220.35 203.51 L220.55 204.57 L220.75 205.57 L220.95 206.53 L221.15 207.42 L221.35 208.26 L221.55 209.05 L221.75 209.78 L221.95 210.45 L222.15 211.08 L222.35 211.66 L222.55 212.18 L222.75 212.67 L222.95 213.11 L223.15 213.54 L223.35 213.96 L223.55 214.34 L223.75 214.65 L223.95 214.86 L224.15 214.99 L224.35 215.08 L224.55 215.15 L224.75 215.21 L224.95 215.28 L225.15 215.29 L225.35 215.26 L225.55 215.19 L225.75 215.09 L225.95 214.96 L226.15 214.81 L226.35 214.63 L226.55 214.43 L226.75 214.23 L226.95 214.01 L227.15 213.78 L227.35 213.54 L227.55 213.29 L227.75 213.03 L227.95 212.76 L228.15 212.49 L228.35 212.21 L228.55 211.93 L228.75 211.64 L228.95 211.36 L229.15 211.07 L229.35 210.78 L229.55 210.49 L229.75 210.19 L229.95 209.9 L230.15 209.6 L230.35 209.3 L230.55 209 L230.75 208.7 L230.95 208.4 L231.15 208.09 L231.35 207.79 L231.55 207.49 L231.75 207.18 L231.95 206.88 L232.15 206.57 L232.35 206.27 L232.55 205.96 L232.75 205.65 L232.95 205.34 L233.15 205.04 L233.35 204.73 L233.55 204.42 L233.75 204.11 L233.95 203.8 L234.15 203.49 L234.35 203.18 L234.55 202.87 L234.75 202.57 L234.95 202.26 L235.15 201.95 L235.35 201.64 L235.55 201.33 L235.75 201.02 L235.95 200.71 L236.15 200.4 L236.35 200.09 L236.55 199.78 L236.75 199.47 L236.95 199.16 L237.15 198.85 L237.35 198.54 L237.55 198.23 L237.75 197.92 L237.95 197.61 L238.15 197.3 L238.35 196.99 L238.55 196.68 L238.75 196.37 L238.95 196.06 L239.15 195.75 L239.35 195.44 L239.55 195.13 L239.75 194.82 L239.95 194.51 L240.15 194.2 L240.35 193.89 L240.55 193.58 L240.75 193.28 L240.95 192.97 L241.15 192.67 L241.35 192.37 L241.55 192.07 L241.75 191.77 L241.95 191.48 L242.15 191.19 L242.35 190.89 L242.55 190.6 L242.75 190.32 L242.95 190.03 L243.15 189.75 L243.35 189.47 L243.55 189.19 L243.75 188.91 L243.95 188.63 L244.15 188.36 L244.35 188.09 L244.55 187.82 L244.75 187.55 L244.95 187.29 L245.15 187.03 L245.35 186.77 L245.55 186.51 L245.75 186.26 L245.95 186 L246.15 185.76 L246.35 185.51 L246.55 185.27 L246.75 185.02 L246.95 184.79 L247.15 184.55 L247.35 184.32 L247.55 184.09 L247.75 183.86 L247.95 183.64 L248.15 183.41 L248.35 183.19 L248.55 182.98 L248.75 182.76 L248.95 182.55 L249.15 182.34 L249.35 182.13 L249.55 181.93 L249.75 181.73 L249.95 181.52 L250.15 181.33 L250.35 181.13 L250.55 180.93 L250.75 180.74 L250.95 180.55 L251.15 180.36 L251.35 180.17 L251.55 179.98 L251.75 179.79 L251.95 179.61 L252.15 179.43 L252.35 179.25 L252.55 179.07 L252.75 178.89 L252.95 178.71 L253.15 178.54 L253.35 178.36 L253.55 178.19 L253.75 178.02 L253.95 177.85 L254.15 177.68 L254.35 177.52 L254.55 177.35 L254.75 177.19 L254.95 177.02 L255.15 176.86 L255.35 176.7 L255.55 176.54 L255.75 176.38 L255.95 176.23 L256.15 176.07 L256.35 175.92 L256.55 175.76 L256.75 175.61 L256.95 175.46 L257.15 175.31 L257.35 175.16 L257.55 175.01 L257.75 174.86 L257.95 174.72 L258.15 174.57 L258.35 174.43 L258.55 174.28 L258.75 174.14 L258.95 174 L259.15 173.86 L259.35 173.72 L259.55 173.58 L259.75 173.44 L259.95 173.3 L260.15 173.16 L260.35 173.02 L260.55 172.89 L260.75 172.75 L260.95 172.62 L261.15 172.48 L261.35 172.35 L261.55 172.22 L261.75 172.08 L261.95 171.95 L262.15 171.82 L262.35 171.69 L262.55 171.56 L262.75 171.43 L262.95 171.3 L263.15 171.17 L263.35 171.04 L263.55 170.91 L263.75 170.78 L263.95 170.66 L264.15 170.53 L264.35 170.41 L264.55 170.28 L264.75 170.16 L264.95 170.03 L265.15 169.91 L265.35 169.79 L265.55 169.66 L265.75 169.54 L265.95 169.42 L266.15 169.3 L266.35 169.18 L266.55 169.06 L266.75 168.94 L266.95 168.82 L267.15 168.71 L267.35 168.59 L267.55 168.47 L267.75 168.36 L267.95 168.24 L268.15 168.13 L268.35 168.02 L268.55 167.91 L268.75 167.8 L268.95 167.68 L269.15 167.58 L269.35 167.47 L269.55 167.36 L269.75 167.25 L269.95 167.15 L270.15 167.04 L270.35 166.94 L270.55 166.83 L270.75 166.73 L270.95 166.63 L271.15 166.53 L271.35 166.43 L271.55 166.33 L271.75 166.23 L271.95 166.13 L272.15 166.04 L272.35 165.94 L272.55 165.85 L272.75 165.75 L272.95 165.66 L273.15 165.57 L273.35 165.48 L273.55 165.39 L273.75 165.3 L273.95 165.21 L274.15 165.13 L274.35 165.04 L274.55 164.96 L274.75 164.87 L274.95 164.79 L275.15 164.71 L275.35 164.63 L275.55 164.55 L275.75 164.47 L275.95 164.39 L276.15 164.32 L276.35 164.24 L276.55 164.16 L276.75 164.09 L276.95 164.02 L277.15 163.95 L277.35 163.88 L277.55 163.81 L277.75 163.74 L277.95 163.67 L278.15 163.6 L278.35 163.54 L278.55 163.48 L278.75 163.41 L278.95 163.35 L279.15 163.29 L279.35 163.23 L279.55 163.17 L279.75 163.11 L279.95 163.06 L280.15 163 L280.35 162.95 L280.55 162.89 L280.75 162.84 L280.95 162.79 L281.15 162.74 L281.35 162.69 L281.55 162.65 L281.75 162.6 L281.95 162.55 L282.15 162.51 L282.35 162.47 L282.55 162.42 L282.75 162.38 L282.95 162.34 L283.15 162.31 L283.35 162.27 L283.55 162.23 L283.75 162.2 L283.95 162.16 L284.15 162.13 L284.35 162.1 L284.55 162.07 L284.6 162.06 L286.6 121.8 L286.75 130.15 L286.95 142.62 L287.15 151.93 L287.35 158.69 L287.55 163.93 L287.75 167.86 L287.95 171.09 L288.15 173.86 L288.35 176.38 L288.55 178.82 L288.75 181.18 L288.95 183.45 L289.15 185.61 L289.35 187.66 L289.55 189.6 L289.75 191.41 L289.95 193.1 L290.15 194.64 L290.35 196.06 L290.55 197.43 L290.75 198.75 L290.95 200.02 L291.15 201.23 L291.35 202.4 L291.55 203.51 L291.75 204.57 L291.95 205.57 L292.15 206.53 L292.35 207.42 L292.55 208.26 L292.75 209.05 L292.95 209.78 L293.15 210.45 L293.35 211.08 L293.55 211.66 L293.75 212.18 L293.95 212.67 L294.15 213.11 L294.35 213.54 L294.55 213.96 L294.75 214.34 L294.95 214.65 L295.15 214.86 L295.35 214.99 L295.55 215.08 L295.75 215.15 L295.95 215.21 L296.15 215.28 L296.35 215.29 L296.55 215.26 L296.75 215.19 L296.95 215.09 L297.15 214.96 L297.35 214.81 L297.55 214.63 L297.75 214.43 L297.95 214.23 L298.15 214.01 L298.35 213.78 L298.55 213.54 L298.75 213.29 L298.95 213.03 L299.15 212.76 L299.35 212.49 L299.55 212.21 L299.75 211.93 L299.95 211.64 L300.15 211.36 L300.35 211.07 L300.55 210.78 L300.75 210.49 L300.95 210.19 L301.15 209.9 L301.35 209.6 L301.55 209.3 L301.75 209 L301.95 208.7 L302.15 208.4 L302.35 208.09 L302.55 207.79 L302.75 207.49 L302.95 207.18 L303.15 206.88 L303.35 206.57 L303.55 206.27 L303.75 205.96 L303.95 205.65 L304.15 205.34 L304.35 205.04 L304.55 204.73 L304.75 204.42 L304.95 204.11 L305.15 203.8 L305.35 203.49 L305.55 203.18 L305.75 202.87 L305.95 202.57 L306.15 202.26 L306.35 201.95 L306.55 201.64 L306.75 201.33 L306.95 201.02 L307.15 200.71 L307.35 200.4 L307.55 200.09 L307.75 199.78 L307.95 199.47 L308.15 199.16 L308.35 198.85 L308.55 198.54 L308.75 198.23 L308.95 197.92 L309.15 197.61 L309.35 197.3 L309.55 196.99 L309.75 196.68 L309.95 196.37 L310.15 196.06 L310.35 195.75 L310.55 195.44 L310.75 195.13 L310.95 194.82 L311.15 194.51 L311.35 194.2 L311.55 193.89 L311.75 193.58 L311.95 193.28 L312.15 192.97 L312.35 192.67 L312.55 192.37 L312.75 192.07 L312.95 191.77 L313.15 191.48 L313.35 191.19 L313.55 190.89 L313.75 190.6 L313.95 190.32 L314.15 190.03 L314.35 189.75 L314.55 189.47 L314.75 189.19 L314.95 188.91 L315.15 188.63 L315.35 188.36 L315.55 188.09 L315.75 187.82 L315.95 187.55 L316.15 187.29 L316.35 187.03 L316.55 186.77 L316.75 186.51 L316.95 186.26 L317.15 186 L317.35 185.76 L317.55 185.51 L317.75 185.27 L317.95 185.02 L318.15 184.79 L318.35 184.55 L318.55 184.32 L318.75 184.09 L318.95 183.86 L319.15 183.64 L319.35 183.41 L319.55 183.19 L319.75 182.98 L319.95 182.76 L320.15 182.55 L320.35 182.34 L320.55 182.13 L320.75 181.93 L320.95 181.73 L321.15 181.52 L321.35 181.33 L321.55 181.13 L321.75 180.93 L321.95 180.74 L322.15 180.55 L322.35 180.36 L322.55 180.17 L322.75 179.98 L322.95 179.79 L323.15 179.61 L323.35 179.43 L323.55 179.25 L323.75 179.07 L323.95 178.89 L324.15 178.71 L324.35 178.54 L324.55 178.36 L324.75 178.19 L324.95 178.02 L325.15 177.85 L325.35 177.68 L325.55 177.52 L325.75 177.35 L325.95 177.19 L326.15 177.02 L326.35 176.86 L326.55 176.7 L326.75 176.54 L326.95 176.38 L327.15 176.23 L327.35 176.07 L327.55 175.92 L327.75 175.76 L327.95 175.61 L328.15 175.46 L328.35 175.31 L328.55 175.16 L328.75 175.01 L328.95 174.86 L329.15 174.72 L329.35 174.57 L329.55 174.43 L329.75 174.28 L329.95 174.14 L330.15 174 L330.35 173.86 L330.55 173.72 L330.75 173.58 L330.95 173.44 L331.15 173.3 L331.35 173.16 L331.55 173.02 L331.75 172.89 L331.95 172.75 L332.15 172.62 L332.35 172.48 L332.55 172.35 L332.75 172.22 L332.95 172.08 L333.15 171.95 L333.35 171.82 L333.55 171.69 L333.75 171.56 L333.95 171.43 L334.15 171.3 L334.35 171.17 L334.55 171.04 L334.75 170.91 L334.95 170.78 L335.15 170.66 L335.35 170.53 L335.55 170.41 L335.75 170.28 L335.95 170.16 L336.15 170.03 L336.35 169.91 L336.55 169.79 L336.75 169.66 L336.95 169.54 L337.15 169.42 L337.35 169.3 L337.55 169.18 L337.75 169.06 L337.95 168.94 L338.15 168.82 L338.35 168.71 L338.55 168.59 L338.75 168.47 L338.95 168.36 L339.15 168.24 L339.35 168.13 L339.55 168.02 L339.75 167.91 L339.95 167.8 L340.15 167.68 L340.35 167.58 L340.55 167.47 L340.75 167.36 L340.95 167.25 L341.15 167.15 L341.35 167.04 L341.55 166.94 L341.75 166.83 L341.95 166.73 L342.15 166.63 L342.35 166.53 L342.55 166.43 L342.75 166.33 L342.95 166.23 L343.15 166.13 L343.35 166.04 L343.55 165.94 L343.75 165.85 L343.95 165.75 L344.15 165.66 L344.35 165.57 L344.55 165.48 L344.75 165.39 L344.95 165.3 L345.15 165.21 L345.35 165.13 L345.55 165.04 L345.75 164.96 L345.95 164.87 L346.15 164.79 L346.35 164.71 L346.55 164.63 L346.75 164.55 L346.95 164.47 L347.15 164.39 L347.35 164.32 L347.55 164.24 L347.75 164.16 L347.95 164.09 L348.15 164.02 L348.35 163.95 L348.55 163.88 L348.75 163.81 L348.95 163.74 L349.15 163.67 L349.35 163.6 L349.55 163.54 L349.75 163.48 L349.95 163.41 L350.15 163.35 L350.35 163.29 L350.55 163.23 L350.75 163.17 L350.95 163.11 L351.15 163.06 L351.35 163 L351.55 162.95 L351.75 162.89 L351.95 162.84 L352.15 162.79 L352.35 162.74 L352.55 162.69 L352.75 162.65 L352.95 162.6 L353.15 162.55 L353.35 162.51 L353.55 162.47 L353.75 162.42 L353.95 162.38 L354.15 162.34 L354.35 162.31 L354.55 162.27 L354.75 162.23 L354.95 162.2 L355.15 162.16 L355.35 162.13 L355.55 162.1 L355.75 162.07 L355.8 162.06 L357.8 121.8 L357.95 130.15 L358.15 142.62 L358.35 151.93 L358.55 158.69 L358.75 163.93 L358.95 167.86 L359.15 171.09 L359.35 173.86 L359.55 176.38 L359.75 178.82 L359.95 181.18 L360.15 183.45 L360.35 185.61 L360.55 187.66 L360.75 189.6 L360.95 191.41 L361.15 193.1 L361.35 194.64 L361.55 196.06 L361.75 197.43 L361.95 198.75 L362.15 200.02 L362.35 201.23 L362.55 202.4 L362.75 203.51 L362.95 204.57 L363.15 205.57 L363.35 206.53 L363.55 207.42 L363.75 208.26 L363.95 209.05 L364.15 209.78 L364.35 210.45 L364.55 211.08 L364.75 211.66 L364.95 212.18 L365.15 212.67 L365.35 213.11 L365.55 213.54 L365.75 213.96 L365.95 214.34 L366.15 214.65 L366.35 214.86 L366.55 214.99 L366.75 215.08 L366.95 215.15 L367.15 215.21 L367.35 215.28 L367.55 215.29 L367.75 215.26 L367.95 215.19 L368.15 215.09 L368.35 214.96 L368.55 214.81 L368.75 214.63 L368.95 214.43 L369.15 214.23 L369.35 214.01 L369.55 213.78 L369.75 213.54 L369.95 213.29 L370.15 213.03 L370.35 212.76 L370.55 212.49 L370.75 212.21 L370.95 211.93 L371.15 211.64 L371.35 211.36 L371.55 211.07 L371.75 210.78 L371.95 210.49 L372.15 210.19 L372.35 209.9 L372.55 209.6 L372.75 209.3 L372.95 209 L373.15 208.7 L373.35 208.4 L373.55 208.09 L373.75 207.79 L373.95 207.49 L374.15 207.18 L374.35 206.88 L374.55 206.57 L374.75 206.27 L374.95 205.96 L375.15 205.65 L375.35 205.34 L375.55 205.04 L375.75 204.73 L375.95 204.42 L376.15 204.11 L376.35 203.8 L376.55 203.49 L376.75 203.18 L376.95 202.87 L377.15 202.57 L377.35 202.26 L377.55 201.95 L377.75 201.64 L377.95 201.33 L378.15 201.02 L378.35 200.71 L378.55 200.4 L378.75 200.09 L378.95 199.78 L379.15 199.47 L379.35 199.16 L379.55 198.85 L379.75 198.54 L379.95 198.23 L380.15 197.92 L380.35 197.61 L380.55 197.3 L380.75 196.99 L380.95 196.68 L381.15 196.37 L381.35 196.06 L381.55 195.75 L381.75 195.44 L381.95 195.13 L382.15 194.82 L382.35 194.51 L382.55 194.2 L382.75 193.89 L382.95 193.58 L383.15 193.28 L383.35 192.97 L383.55 192.67 L383.75 192.37 L383.95 192.07 L384.15 191.77 L384.35 191.48 L384.55 191.19 L384.75 190.89 L384.95 190.6 L385.15 190.32 L385.35 190.03 L385.55 189.75 L385.75 189.47 L385.95 189.19 L386.15 188.91 L386.35 188.63 L386.55 188.36 L386.75 188.09 L386.95 187.82 L387.15 187.55 L387.35 187.29 L387.55 187.03 L387.75 186.77 L387.95 186.51 L388.15 186.26 L388.35 186 L388.55 185.76 L388.75 185.51 L388.95 185.27 L389.15 185.02 L389.35 184.79 L389.55 184.55 L389.75 184.32 L389.95 184.09 L390.15 183.86 L390.35 183.64 L390.55 183.41 L390.75 183.19 L390.95 182.98 L391.15 182.76 L391.35 182.55 L391.55 182.34 L391.75 182.13 L391.95 181.93 L392.15 181.73 L392.35 181.52 L392.55 181.33 L392.75 181.13 L392.95 180.93 L393.15 180.74 L393.35 180.55 L393.55 180.36 L393.75 180.17 L393.95 179.98 L394.15 179.79 L394.35 179.61 L394.55 179.43 L394.75 179.25 L394.95 179.07 L395.15 178.89 L395.35 178.71 L395.55 178.54 L395.75 178.36 L395.95 178.19 L396.15 178.02 L396.35 177.85 L396.55 177.68 L396.75 177.52 L396.95 177.35 L397.15 177.19 L397.35 177.02 L397.55 176.86 L397.75 176.7 L397.95 176.54 L398.15 176.38 L398.35 176.23 L398.55 176.07 L398.75 175.92 L398.95 175.76 L399.15 175.61 L399.35 175.46 L399.55 175.31 L399.75 175.16 L399.95 175.01 L400.15 174.86 L400.35 174.72 L400.55 174.57 L400.75 174.43 L400.95 174.28 L401.15 174.14 L401.35 174 L401.55 173.86 L401.75 173.72 L401.95 173.58 L402.15 173.44 L402.35 173.3 L402.55 173.16 L402.75 173.02 L402.95 172.89 L403.15 172.75 L403.35 172.62 L403.5 172.52" fill="none" stroke="#231f20" stroke-width="1.45" stroke-linejoin="round" />
<line x1="73.2" y1="286.8" x2="404" y2="286.8" stroke="#231f20" stroke-width="1.1" />
<path d="M73.6 273.5 L73.85 272.36 L74.1 271.07 L74.35 269.87 L74.6 269.04 L74.85 268.81 L75.1 269.02 L75.35 269.48 L75.6 270.13 L75.85 270.91 L76.1 271.76 L76.35 272.62 L76.6 273.43 L76.85 274.13 L77.1 274.8 L77.35 275.5 L77.6 276.19 L77.85 276.87 L78.1 277.53 L78.35 278.14 L78.6 278.7 L78.85 279.21 L79.1 279.7 L79.35 280.17 L79.6 280.62 L79.85 281.05 L80.1 281.47 L80.35 281.86 L80.6 282.24 L80.85 282.59 L81.1 282.94 L81.35 283.28 L81.6 283.62 L81.85 283.95 L82.1 284.27 L82.35 284.58 L82.6 284.86 L82.85 285.12 L83.1 285.35 L83.35 285.55 L83.6 285.7 L83.85 285.83 L84.1 285.96 L84.35 286.08 L84.6 286.2 L84.85 286.3 L85.1 286.39 L85.35 286.47 L85.6 286.53 L85.85 286.58 L86.1 286.6 L86.35 286.6 L86.6 286.6 L86.85 286.6 L87.1 286.6 L87.35 286.6 L87.6 286.6 L87.85 286.6 L88.1 286.6 L88.35 286.6 L88.6 286.6 L88.85 286.6 L89.1 286.59 L89.35 286.57 L89.6 286.56 L89.85 286.53 L90.1 286.51 L90.35 286.48 L90.6 286.45 L90.85 286.43 L91.1 286.4 L91.35 286.37 L91.6 286.34 L91.85 286.32 L92.1 286.3 L92.35 286.28 L92.6 286.26 L92.85 286.25 L93.1 286.23 L93.35 286.21 L93.6 286.19 L93.85 286.17 L94.1 286.16 L94.35 286.14 L94.6 286.12 L94.85 286.11 L95.1 286.09 L95.35 286.07 L95.6 286.06 L95.85 286.04 L96.1 286.03 L96.35 286.01 L96.6 286 L96.85 285.98 L97.1 285.97 L97.35 285.96 L97.6 285.95 L97.85 285.93 L98.1 285.92 L98.35 285.91 L98.6 285.9 L98.85 285.89 L99.1 285.88 L99.35 285.87 L99.6 285.86 L99.85 285.85 L100.1 285.84 L100.35 285.83 L100.6 285.82 L100.85 285.81 L101.1 285.79 L101.35 285.78 L101.6 285.77 L101.85 285.76 L102.1 285.75 L102.35 285.74 L102.6 285.73 L102.85 285.73 L103.1 285.72 L103.35 285.71 L103.6 285.7 L103.85 285.69 L104.1 285.68 L104.35 285.67 L104.6 285.67 L104.85 285.66 L105.1 285.65 L105.35 285.64 L105.6 285.64 L105.85 285.63 L106.1 285.63 L106.35 285.62 L106.6 285.62 L106.85 285.61 L107.1 285.61 L107.35 285.61 L107.6 285.6 L107.85 285.6 L108.1 285.6 L108.35 285.6 L108.6 285.6 L108.85 285.6 L109.1 285.6 L109.35 285.6 L109.6 285.6 L109.85 285.6 L110.1 285.6 L110.35 285.6 L110.6 285.6 L110.85 285.6 L111.1 285.6 L111.35 285.6 L111.6 285.6 L111.85 285.6 L112.1 285.6 L112.35 285.6 L112.6 285.6 L112.85 285.6 L113.1 285.6 L113.35 285.6 L113.6 285.6 L113.85 285.6 L114.1 285.6 L114.35 285.6 L114.6 285.6 L114.85 285.6 L115.1 285.6 L115.35 285.6 L115.6 285.6 L115.85 285.6 L116.1 285.6 L116.35 285.6 L116.6 285.6 L116.85 285.6 L117.1 285.6 L117.35 285.6 L117.6 285.6 L117.85 285.6 L118.1 285.6 L118.35 285.6 L118.6 285.6 L118.85 285.6 L119.1 285.6 L119.35 285.6 L119.6 285.6 L119.85 285.6 L120.1 285.6 L120.35 285.6 L120.6 285.6 L120.85 285.6 L121.1 285.6 L121.35 285.6 L121.6 285.6 L121.85 285.6 L122.1 285.6 L122.35 285.6 L122.6 285.6 L122.85 285.6 L123.1 285.6 L123.35 285.6 L123.6 285.6 L123.85 285.6 L124.1 285.6 L124.35 285.6 L124.6 285.6 L124.85 285.6 L125.1 285.61 L125.35 285.61 L125.6 285.61 L125.85 285.61 L126.1 285.61 L126.35 285.62 L126.6 285.62 L126.85 285.62 L127.1 285.63 L127.35 285.63 L127.6 285.64 L127.85 285.64 L128.1 285.65 L128.35 285.65 L128.6 285.66 L128.85 285.66 L129.1 285.67 L129.35 285.67 L129.6 285.68 L129.85 285.69 L130.1 285.69 L130.35 285.7 L130.6 285.7 L130.85 285.71 L131.1 285.72 L131.35 285.73 L131.6 285.73 L131.85 285.74 L132.1 285.75 L132.35 285.76 L132.6 285.77 L132.85 285.77 L133.1 285.78 L133.35 285.79 L133.6 285.8 L133.85 285.81 L134.1 285.82 L134.35 285.84 L134.6 285.85 L134.85 285.87 L135.1 285.89 L135.35 285.91 L135.6 285.93 L135.85 285.96 L136.1 285.98 L136.35 286.01 L136.6 286.03 L136.85 286.06 L137.1 286.09 L137.35 286.12 L137.6 286.15 L137.85 286.18 L138.1 286.21 L138.35 286.24 L138.6 286.27 L138.85 286.31 L139.1 286.34 L139.35 286.37 L139.6 286.4 L139.85 286.43 L140.1 286.47 L140.35 286.5 L140.6 286.54 L140.85 286.58 L141.1 286.62 L141.35 286.66 L141.6 286.7 L141.85 286.74 L142.1 286.78 L142.2 286.8 L143.6 325.2 L143.8 310 L143.8 229.4 L143.9 235.35 L144.1 242 L144.3 247.04 L144.5 251 L144.7 253.96 L144.9 256.42 L145.1 258.6 L145.3 260.69 L145.5 262.62 L145.7 264.3 L145.9 265.63 L146.1 266.77 L146.3 267.78 L146.5 268.7 L146.7 269.56 L146.9 270.4 L147.1 271.23 L147.3 272.02 L147.5 272.78 L147.7 273.51 L147.9 274.2 L148.1 274.87 L148.3 275.5 L148.5 276.11 L148.7 276.71 L148.9 277.29 L149.1 277.85 L149.3 278.4 L149.5 278.91 L149.7 279.41 L149.9 279.87 L150.1 280.3 L150.3 280.7 L150.5 281.08 L150.7 281.46 L150.9 281.82 L151.1 282.16 L151.3 282.49 L151.5 282.8 L151.7 283.08 L151.9 283.35 L152.1 283.59 L152.3 283.8 L152.5 284 L152.7 284.19 L152.9 284.38 L153.1 284.57 L153.3 284.74 L153.5 284.91 L153.7 285.07 L153.9 285.23 L154.1 285.37 L154.3 285.49 L154.5 285.61 L154.7 285.71 L154.9 285.79 L155.1 285.85 L155.3 285.9 L155.5 285.94 L155.7 285.97 L155.9 286.01 L156.1 286.04 L156.3 286.07 L156.5 286.1 L156.7 286.13 L156.9 286.16 L157.1 286.19 L157.3 286.21 L157.5 286.23 L157.7 286.26 L157.9 286.28 L158.1 286.3 L158.3 286.31 L158.5 286.33 L158.7 286.34 L158.9 286.36 L159.1 286.37 L159.3 286.38 L159.5 286.39 L159.7 286.39 L159.9 286.4 L160.1 286.4 L160.3 286.4 L160.5 286.4 L160.7 286.4 L160.9 286.39 L161.1 286.39 L161.3 286.38 L161.5 286.38 L161.7 286.37 L161.9 286.36 L162.1 286.35 L162.3 286.34 L162.5 286.33 L162.7 286.32 L162.9 286.31 L163.1 286.3 L163.3 286.29 L163.5 286.27 L163.7 286.26 L163.9 286.25 L164.1 286.23 L164.3 286.22 L164.5 286.2 L164.7 286.19 L164.9 286.17 L165.1 286.16 L165.3 286.14 L165.5 286.13 L165.7 286.12 L165.9 286.1 L166.1 286.09 L166.3 286.08 L166.5 286.06 L166.7 286.05 L166.9 286.04 L167.1 286.03 L167.3 286.02 L167.5 286.01 L167.7 286 L167.9 286 L168.1 285.99 L168.3 285.98 L168.5 285.97 L168.7 285.97 L168.9 285.96 L169.1 285.95 L169.3 285.95 L169.5 285.94 L169.7 285.93 L169.9 285.93 L170.1 285.92 L170.3 285.91 L170.5 285.91 L170.7 285.9 L170.9 285.89 L171.1 285.89 L171.3 285.88 L171.5 285.87 L171.7 285.87 L171.9 285.86 L172.1 285.85 L172.3 285.85 L172.5 285.84 L172.7 285.84 L172.9 285.83 L173.1 285.82 L173.3 285.82 L173.5 285.81 L173.7 285.81 L173.9 285.8 L174.1 285.8 L174.3 285.79 L174.5 285.79 L174.7 285.78 L174.9 285.78 L175.1 285.77 L175.3 285.77 L175.5 285.76 L175.7 285.76 L175.9 285.75 L176.1 285.75 L176.3 285.74 L176.5 285.74 L176.7 285.74 L176.9 285.73 L177.1 285.73 L177.3 285.72 L177.5 285.72 L177.7 285.72 L177.9 285.71 L178.1 285.71 L178.3 285.71 L178.5 285.7 L178.7 285.7 L178.9 285.7 L179.1 285.7 L179.3 285.69 L179.5 285.69 L179.7 285.69 L179.9 285.68 L180.1 285.68 L180.3 285.68 L180.5 285.68 L180.7 285.67 L180.9 285.67 L181.1 285.67 L181.3 285.66 L181.5 285.66 L181.7 285.66 L181.9 285.66 L182.1 285.65 L182.3 285.65 L182.5 285.65 L182.7 285.65 L182.9 285.64 L183.1 285.64 L183.3 285.64 L183.5 285.64 L183.7 285.63 L183.9 285.63 L184.1 285.63 L184.3 285.63 L184.5 285.62 L184.7 285.62 L184.9 285.62 L185.1 285.62 L185.3 285.62 L185.5 285.61 L185.7 285.61 L185.9 285.61 L186.1 285.61 L186.3 285.61 L186.5 285.61 L186.7 285.61 L186.9 285.61 L187.1 285.6 L187.3 285.6 L187.5 285.6 L187.7 285.6 L187.9 285.6 L188.1 285.6 L188.3 285.6 L188.5 285.6 L188.7 285.6 L188.9 285.6 L189.1 285.6 L189.3 285.6 L189.5 285.6 L189.7 285.6 L189.9 285.6 L190.1 285.6 L190.3 285.6 L190.5 285.6 L190.7 285.6 L190.9 285.61 L191.1 285.61 L191.3 285.61 L191.5 285.61 L191.7 285.61 L191.9 285.61 L192.1 285.61 L192.3 285.62 L192.5 285.62 L192.7 285.62 L192.9 285.62 L193.1 285.62 L193.3 285.63 L193.5 285.63 L193.7 285.63 L193.9 285.63 L194.1 285.63 L194.3 285.64 L194.5 285.64 L194.7 285.64 L194.9 285.64 L195.1 285.65 L195.3 285.65 L195.5 285.65 L195.7 285.65 L195.9 285.66 L196.1 285.66 L196.3 285.66 L196.5 285.67 L196.7 285.67 L196.9 285.67 L197.1 285.67 L197.3 285.68 L197.5 285.68 L197.7 285.68 L197.9 285.69 L198.1 285.69 L198.3 285.69 L198.5 285.7 L198.7 285.7 L198.9 285.7 L199.1 285.7 L199.3 285.71 L199.5 285.71 L199.7 285.71 L199.9 285.72 L200.1 285.72 L200.3 285.73 L200.5 285.73 L200.7 285.73 L200.9 285.74 L201.1 285.74 L201.3 285.75 L201.5 285.75 L201.7 285.76 L201.9 285.76 L202.1 285.77 L202.3 285.77 L202.5 285.78 L202.7 285.78 L202.9 285.79 L203.1 285.8 L203.3 285.8 L203.5 285.81 L203.7 285.82 L203.9 285.82 L204.1 285.83 L204.3 285.84 L204.5 285.85 L204.7 285.85 L204.9 285.86 L205.1 285.87 L205.3 285.88 L205.5 285.89 L205.7 285.9 L205.9 285.9 L206.1 285.91 L206.3 285.93 L206.5 285.94 L206.7 285.95 L206.9 285.97 L207.1 285.98 L207.3 286 L207.5 286.01 L207.7 286.03 L207.9 286.05 L208.1 286.07 L208.3 286.09 L208.5 286.11 L208.7 286.13 L208.9 286.16 L209.1 286.18 L209.3 286.2 L209.5 286.23 L209.7 286.25 L209.9 286.28 L210.1 286.3 L210.3 286.33 L210.5 286.36 L210.7 286.39 L210.9 286.41 L211.1 286.45 L211.3 286.48 L211.5 286.52 L211.7 286.56 L211.9 286.61 L212.1 286.65 L212.3 286.69 L212.5 286.74 L212.7 286.78 L212.8 286.8 L213.4 286.8 L214.8 325.5 L215 310 L215 232.4 L215.1 235.35 L215.3 242 L215.5 247.04 L215.7 251 L215.9 253.96 L216.1 256.42 L216.3 258.6 L216.5 260.69 L216.7 262.62 L216.9 264.3 L217.1 265.63 L217.3 266.77 L217.5 267.78 L217.7 268.7 L217.9 269.56 L218.1 270.4 L218.3 271.23 L218.5 272.02 L218.7 272.78 L218.9 273.51 L219.1 274.2 L219.3 274.87 L219.5 275.5 L219.7 276.11 L219.9 276.71 L220.1 277.29 L220.3 277.85 L220.5 278.4 L220.7 278.91 L220.9 279.41 L221.1 279.87 L221.3 280.3 L221.5 280.7 L221.7 281.08 L221.9 281.46 L222.1 281.82 L222.3 282.16 L222.5 282.49 L222.7 282.8 L222.9 283.08 L223.1 283.35 L223.3 283.59 L223.5 283.8 L223.7 284 L223.9 284.19 L224.1 284.38 L224.3 284.57 L224.5 284.74 L224.7 284.91 L224.9 285.07 L225.1 285.23 L225.3 285.37 L225.5 285.49 L225.7 285.61 L225.9 285.71 L226.1 285.79 L226.3 285.85 L226.5 285.9 L226.7 285.94 L226.9 285.97 L227.1 286.01 L227.3 286.04 L227.5 286.07 L227.7 286.1 L227.9 286.13 L228.1 286.16 L228.3 286.19 L228.5 286.21 L228.7 286.23 L228.9 286.26 L229.1 286.28 L229.3 286.3 L229.5 286.31 L229.7 286.33 L229.9 286.34 L230.1 286.36 L230.3 286.37 L230.5 286.38 L230.7 286.39 L230.9 286.39 L231.1 286.4 L231.3 286.4 L231.5 286.4 L231.7 286.4 L231.9 286.4 L232.1 286.39 L232.3 286.39 L232.5 286.38 L232.7 286.38 L232.9 286.37 L233.1 286.36 L233.3 286.35 L233.5 286.34 L233.7 286.33 L233.9 286.32 L234.1 286.31 L234.3 286.3 L234.5 286.29 L234.7 286.27 L234.9 286.26 L235.1 286.25 L235.3 286.23 L235.5 286.22 L235.7 286.2 L235.9 286.19 L236.1 286.17 L236.3 286.16 L236.5 286.14 L236.7 286.13 L236.9 286.12 L237.1 286.1 L237.3 286.09 L237.5 286.08 L237.7 286.06 L237.9 286.05 L238.1 286.04 L238.3 286.03 L238.5 286.02 L238.7 286.01 L238.9 286 L239.1 286 L239.3 285.99 L239.5 285.98 L239.7 285.97 L239.9 285.97 L240.1 285.96 L240.3 285.95 L240.5 285.95 L240.7 285.94 L240.9 285.93 L241.1 285.93 L241.3 285.92 L241.5 285.91 L241.7 285.91 L241.9 285.9 L242.1 285.89 L242.3 285.89 L242.5 285.88 L242.7 285.87 L242.9 285.87 L243.1 285.86 L243.3 285.85 L243.5 285.85 L243.7 285.84 L243.9 285.84 L244.1 285.83 L244.3 285.82 L244.5 285.82 L244.7 285.81 L244.9 285.81 L245.1 285.8 L245.3 285.8 L245.5 285.79 L245.7 285.79 L245.9 285.78 L246.1 285.78 L246.3 285.77 L246.5 285.77 L246.7 285.76 L246.9 285.76 L247.1 285.75 L247.3 285.75 L247.5 285.74 L247.7 285.74 L247.9 285.74 L248.1 285.73 L248.3 285.73 L248.5 285.72 L248.7 285.72 L248.9 285.72 L249.1 285.71 L249.3 285.71 L249.5 285.71 L249.7 285.7 L249.9 285.7 L250.1 285.7 L250.3 285.7 L250.5 285.69 L250.7 285.69 L250.9 285.69 L251.1 285.68 L251.3 285.68 L251.5 285.68 L251.7 285.68 L251.9 285.67 L252.1 285.67 L252.3 285.67 L252.5 285.66 L252.7 285.66 L252.9 285.66 L253.1 285.66 L253.3 285.65 L253.5 285.65 L253.7 285.65 L253.9 285.65 L254.1 285.64 L254.3 285.64 L254.5 285.64 L254.7 285.64 L254.9 285.63 L255.1 285.63 L255.3 285.63 L255.5 285.63 L255.7 285.62 L255.9 285.62 L256.1 285.62 L256.3 285.62 L256.5 285.62 L256.7 285.61 L256.9 285.61 L257.1 285.61 L257.3 285.61 L257.5 285.61 L257.7 285.61 L257.9 285.61 L258.1 285.61 L258.3 285.6 L258.5 285.6 L258.7 285.6 L258.9 285.6 L259.1 285.6 L259.3 285.6 L259.5 285.6 L259.7 285.6 L259.9 285.6 L260.1 285.6 L260.3 285.6 L260.5 285.6 L260.7 285.6 L260.9 285.6 L261.1 285.6 L261.3 285.6 L261.5 285.6 L261.7 285.6 L261.9 285.6 L262.1 285.61 L262.3 285.61 L262.5 285.61 L262.7 285.61 L262.9 285.61 L263.1 285.61 L263.3 285.61 L263.5 285.62 L263.7 285.62 L263.9 285.62 L264.1 285.62 L264.3 285.62 L264.5 285.63 L264.7 285.63 L264.9 285.63 L265.1 285.63 L265.3 285.63 L265.5 285.64 L265.7 285.64 L265.9 285.64 L266.1 285.64 L266.3 285.65 L266.5 285.65 L266.7 285.65 L266.9 285.65 L267.1 285.66 L267.3 285.66 L267.5 285.66 L267.7 285.67 L267.9 285.67 L268.1 285.67 L268.3 285.67 L268.5 285.68 L268.7 285.68 L268.9 285.68 L269.1 285.69 L269.3 285.69 L269.5 285.69 L269.7 285.7 L269.9 285.7 L270.1 285.7 L270.3 285.7 L270.5 285.71 L270.7 285.71 L270.9 285.71 L271.1 285.72 L271.3 285.72 L271.5 285.73 L271.7 285.73 L271.9 285.73 L272.1 285.74 L272.3 285.74 L272.5 285.75 L272.7 285.75 L272.9 285.76 L273.1 285.76 L273.3 285.77 L273.5 285.77 L273.7 285.78 L273.9 285.78 L274.1 285.79 L274.3 285.8 L274.5 285.8 L274.7 285.81 L274.9 285.82 L275.1 285.82 L275.3 285.83 L275.5 285.84 L275.7 285.85 L275.9 285.85 L276.1 285.86 L276.3 285.87 L276.5 285.88 L276.7 285.89 L276.9 285.9 L277.1 285.9 L277.3 285.91 L277.5 285.93 L277.7 285.94 L277.9 285.95 L278.1 285.97 L278.3 285.98 L278.5 286 L278.7 286.01 L278.9 286.03 L279.1 286.05 L279.3 286.07 L279.5 286.09 L279.7 286.11 L279.9 286.13 L280.1 286.16 L280.3 286.18 L280.5 286.2 L280.7 286.23 L280.9 286.25 L281.1 286.28 L281.3 286.3 L281.5 286.33 L281.7 286.36 L281.9 286.39 L282.1 286.41 L282.3 286.45 L282.5 286.48 L282.7 286.52 L282.9 286.56 L283.1 286.61 L283.3 286.65 L283.5 286.69 L283.7 286.74 L283.9 286.78 L284 286.8 L284.6 286.8 L286 325.8 L286.2 310 L286.2 229.7 L286.3 235.35 L286.5 242 L286.7 247.04 L286.9 251 L287.1 253.96 L287.3 256.42 L287.5 258.6 L287.7 260.69 L287.9 262.62 L288.1 264.3 L288.3 265.63 L288.5 266.77 L288.7 267.78 L288.9 268.7 L289.1 269.56 L289.3 270.4 L289.5 271.23 L289.7 272.02 L289.9 272.78 L290.1 273.51 L290.3 274.2 L290.5 274.87 L290.7 275.5 L290.9 276.11 L291.1 276.71 L291.3 277.29 L291.5 277.85 L291.7 278.4 L291.9 278.91 L292.1 279.41 L292.3 279.87 L292.5 280.3 L292.7 280.7 L292.9 281.08 L293.1 281.46 L293.3 281.82 L293.5 282.16 L293.7 282.49 L293.9 282.8 L294.1 283.08 L294.3 283.35 L294.5 283.59 L294.7 283.8 L294.9 284 L295.1 284.19 L295.3 284.38 L295.5 284.57 L295.7 284.74 L295.9 284.91 L296.1 285.07 L296.3 285.23 L296.5 285.37 L296.7 285.49 L296.9 285.61 L297.1 285.71 L297.3 285.79 L297.5 285.85 L297.7 285.9 L297.9 285.94 L298.1 285.97 L298.3 286.01 L298.5 286.04 L298.7 286.07 L298.9 286.1 L299.1 286.13 L299.3 286.16 L299.5 286.19 L299.7 286.21 L299.9 286.23 L300.1 286.26 L300.3 286.28 L300.5 286.3 L300.7 286.31 L300.9 286.33 L301.1 286.34 L301.3 286.36 L301.5 286.37 L301.7 286.38 L301.9 286.39 L302.1 286.39 L302.3 286.4 L302.5 286.4 L302.7 286.4 L302.9 286.4 L303.1 286.4 L303.3 286.39 L303.5 286.39 L303.7 286.38 L303.9 286.38 L304.1 286.37 L304.3 286.36 L304.5 286.35 L304.7 286.34 L304.9 286.33 L305.1 286.32 L305.3 286.31 L305.5 286.3 L305.7 286.29 L305.9 286.27 L306.1 286.26 L306.3 286.25 L306.5 286.23 L306.7 286.22 L306.9 286.2 L307.1 286.19 L307.3 286.17 L307.5 286.16 L307.7 286.14 L307.9 286.13 L308.1 286.12 L308.3 286.1 L308.5 286.09 L308.7 286.08 L308.9 286.06 L309.1 286.05 L309.3 286.04 L309.5 286.03 L309.7 286.02 L309.9 286.01 L310.1 286 L310.3 286 L310.5 285.99 L310.7 285.98 L310.9 285.97 L311.1 285.97 L311.3 285.96 L311.5 285.95 L311.7 285.95 L311.9 285.94 L312.1 285.93 L312.3 285.93 L312.5 285.92 L312.7 285.91 L312.9 285.91 L313.1 285.9 L313.3 285.89 L313.5 285.89 L313.7 285.88 L313.9 285.87 L314.1 285.87 L314.3 285.86 L314.5 285.85 L314.7 285.85 L314.9 285.84 L315.1 285.84 L315.3 285.83 L315.5 285.82 L315.7 285.82 L315.9 285.81 L316.1 285.81 L316.3 285.8 L316.5 285.8 L316.7 285.79 L316.9 285.79 L317.1 285.78 L317.3 285.78 L317.5 285.77 L317.7 285.77 L317.9 285.76 L318.1 285.76 L318.3 285.75 L318.5 285.75 L318.7 285.74 L318.9 285.74 L319.1 285.74 L319.3 285.73 L319.5 285.73 L319.7 285.72 L319.9 285.72 L320.1 285.72 L320.3 285.71 L320.5 285.71 L320.7 285.71 L320.9 285.7 L321.1 285.7 L321.3 285.7 L321.5 285.7 L321.7 285.69 L321.9 285.69 L322.1 285.69 L322.3 285.68 L322.5 285.68 L322.7 285.68 L322.9 285.68 L323.1 285.67 L323.3 285.67 L323.5 285.67 L323.7 285.66 L323.9 285.66 L324.1 285.66 L324.3 285.66 L324.5 285.65 L324.7 285.65 L324.9 285.65 L325.1 285.65 L325.3 285.64 L325.5 285.64 L325.7 285.64 L325.9 285.64 L326.1 285.63 L326.3 285.63 L326.5 285.63 L326.7 285.63 L326.9 285.62 L327.1 285.62 L327.3 285.62 L327.5 285.62 L327.7 285.62 L327.9 285.61 L328.1 285.61 L328.3 285.61 L328.5 285.61 L328.7 285.61 L328.9 285.61 L329.1 285.61 L329.3 285.61 L329.5 285.6 L329.7 285.6 L329.9 285.6 L330.1 285.6 L330.3 285.6 L330.5 285.6 L330.7 285.6 L330.9 285.6 L331.1 285.6 L331.3 285.6 L331.5 285.6 L331.7 285.6 L331.9 285.6 L332.1 285.6 L332.3 285.6 L332.5 285.6 L332.7 285.6 L332.9 285.6 L333.1 285.6 L333.3 285.61 L333.5 285.61 L333.7 285.61 L333.9 285.61 L334.1 285.61 L334.3 285.61 L334.5 285.61 L334.7 285.62 L334.9 285.62 L335.1 285.62 L335.3 285.62 L335.5 285.62 L335.7 285.63 L335.9 285.63 L336.1 285.63 L336.3 285.63 L336.5 285.63 L336.7 285.64 L336.9 285.64 L337.1 285.64 L337.3 285.64 L337.5 285.65 L337.7 285.65 L337.9 285.65 L338.1 285.65 L338.3 285.66 L338.5 285.66 L338.7 285.66 L338.9 285.67 L339.1 285.67 L339.3 285.67 L339.5 285.67 L339.7 285.68 L339.9 285.68 L340.1 285.68 L340.3 285.69 L340.5 285.69 L340.7 285.69 L340.9 285.7 L341.1 285.7 L341.3 285.7 L341.5 285.7 L341.7 285.71 L341.9 285.71 L342.1 285.71 L342.3 285.72 L342.5 285.72 L342.7 285.73 L342.9 285.73 L343.1 285.73 L343.3 285.74 L343.5 285.74 L343.7 285.75 L343.9 285.75 L344.1 285.76 L344.3 285.76 L344.5 285.77 L344.7 285.77 L344.9 285.78 L345.1 285.78 L345.3 285.79 L345.5 285.8 L345.7 285.8 L345.9 285.81 L346.1 285.82 L346.3 285.82 L346.5 285.83 L346.7 285.84 L346.9 285.85 L347.1 285.85 L347.3 285.86 L347.5 285.87 L347.7 285.88 L347.9 285.89 L348.1 285.9 L348.3 285.9 L348.5 285.91 L348.7 285.93 L348.9 285.94 L349.1 285.95 L349.3 285.97 L349.5 285.98 L349.7 286 L349.9 286.01 L350.1 286.03 L350.3 286.05 L350.5 286.07 L350.7 286.09 L350.9 286.11 L351.1 286.13 L351.3 286.16 L351.5 286.18 L351.7 286.2 L351.9 286.23 L352.1 286.25 L352.3 286.28 L352.5 286.3 L352.7 286.33 L352.9 286.36 L353.1 286.39 L353.3 286.41 L353.5 286.45 L353.7 286.48 L353.9 286.52 L354.1 286.56 L354.3 286.61 L354.5 286.65 L354.7 286.69 L354.9 286.74 L355.1 286.78 L355.2 286.8 L355.8 286.8 L357.2 324.5 L357.4 310 L357.4 227 L357.5 235.35 L357.7 242 L357.9 247.04 L358.1 251 L358.3 253.96 L358.5 256.42 L358.7 258.6 L358.9 260.69 L359.1 262.62 L359.3 264.3 L359.5 265.63 L359.7 266.77 L359.9 267.78 L360.1 268.7 L360.3 269.56 L360.5 270.4 L360.7 271.23 L360.9 272.02 L361.1 272.78 L361.3 273.51 L361.5 274.2 L361.7 274.87 L361.9 275.5 L362.1 276.11 L362.3 276.71 L362.5 277.29 L362.7 277.85 L362.9 278.4 L363.1 278.91 L363.3 279.41 L363.5 279.87 L363.7 280.3 L363.9 280.7 L364.1 281.08 L364.3 281.46 L364.5 281.82 L364.7 282.16 L364.9 282.49 L365.1 282.8 L365.3 283.08 L365.5 283.35 L365.7 283.59 L365.9 283.8 L366.1 284 L366.3 284.19 L366.5 284.38 L366.7 284.57 L366.9 284.74 L367.1 284.91 L367.3 285.07 L367.5 285.23 L367.7 285.37 L367.9 285.49 L368.1 285.61 L368.3 285.71 L368.5 285.79 L368.7 285.85 L368.9 285.9 L369.1 285.94 L369.3 285.97 L369.5 286.01 L369.7 286.04 L369.9 286.07 L370.1 286.1 L370.3 286.13 L370.5 286.16 L370.7 286.19 L370.9 286.21 L371.1 286.23 L371.3 286.26 L371.5 286.28 L371.7 286.3 L371.9 286.31 L372.1 286.33 L372.3 286.34 L372.5 286.36 L372.7 286.37 L372.9 286.38 L373.1 286.39 L373.3 286.39 L373.5 286.4 L373.7 286.4 L373.9 286.4 L374.1 286.4 L374.3 286.4 L374.5 286.39 L374.7 286.39 L374.9 286.38 L375.1 286.38 L375.3 286.37 L375.5 286.36 L375.7 286.35 L375.9 286.34 L376.1 286.33 L376.3 286.32 L376.5 286.31 L376.7 286.3 L376.9 286.29 L377.1 286.27 L377.3 286.26 L377.5 286.25 L377.7 286.23 L377.9 286.22 L378.1 286.2 L378.3 286.19 L378.5 286.17 L378.7 286.16 L378.9 286.14 L379.1 286.13 L379.3 286.12 L379.5 286.1 L379.7 286.09 L379.9 286.08 L380.1 286.06 L380.3 286.05 L380.5 286.04 L380.7 286.03 L380.9 286.02 L381.1 286.01 L381.3 286 L381.5 286 L381.7 285.99 L381.9 285.98 L382.1 285.97 L382.3 285.97 L382.5 285.96 L382.7 285.95 L382.9 285.95 L383.1 285.94 L383.3 285.93 L383.5 285.93 L383.7 285.92 L383.9 285.91 L384.1 285.91 L384.3 285.9 L384.5 285.89 L384.7 285.89 L384.9 285.88 L385.1 285.87 L385.3 285.87 L385.5 285.86 L385.7 285.85 L385.9 285.85 L386.1 285.84 L386.3 285.84 L386.5 285.83 L386.7 285.82 L386.9 285.82 L387.1 285.81 L387.3 285.81 L387.5 285.8 L387.7 285.8 L387.9 285.79 L388.1 285.79 L388.3 285.78 L388.5 285.78 L388.7 285.77 L388.9 285.77 L389.1 285.76 L389.3 285.76 L389.5 285.75 L389.7 285.75 L389.9 285.74 L390.1 285.74 L390.3 285.74 L390.5 285.73 L390.7 285.73 L390.9 285.72 L391.1 285.72 L391.3 285.72 L391.5 285.71 L391.7 285.71 L391.9 285.71 L392.1 285.7 L392.3 285.7 L392.5 285.7 L392.7 285.7 L392.9 285.69 L393.1 285.69 L393.3 285.69 L393.5 285.68 L393.7 285.68 L393.9 285.68 L394.1 285.68 L394.3 285.67 L394.5 285.67 L394.7 285.67 L394.9 285.66 L395.1 285.66 L395.3 285.66 L395.5 285.66 L395.7 285.65 L395.9 285.65 L396.1 285.65 L396.3 285.65 L396.5 285.64 L396.7 285.64 L396.9 285.64 L397.1 285.64 L397.3 285.63 L397.5 285.63 L397.7 285.63 L397.9 285.63 L398.1 285.62 L398.3 285.62 L398.5 285.62 L398.7 285.62 L398.9 285.62 L399.1 285.61 L399.3 285.61 L399.5 285.61 L399.7 285.61 L399.9 285.61 L400.1 285.61 L400.3 285.61 L400.5 285.61 L400.7 285.6 L400.9 285.6 L401.1 285.6 L401.3 285.6 L401.5 285.6 L401.7 285.6 L401.9 285.6 L402.1 285.6 L402.3 285.6 L402.5 285.6 L402.7 285.6 L402.9 285.6 L403.1 285.6 L403.3 285.6 L403.5 285.6" fill="none" stroke="#231f20" stroke-width="1.45" stroke-linejoin="round" />
<rect x="477.2" y="5.6" width="183.8" height="146" fill="none" stroke="#231f20" stroke-width="2.2"/>
<rect x="477.2" y="188.4" width="183.8" height="146.3" fill="none" stroke="#231f20" stroke-width="2.2"/>
<line x1="477.2" y1="127.09" x2="479.5" y2="127.09" stroke="#231f20" stroke-width="1.6" />
<line x1="477.2" y1="310.4" x2="479.5" y2="310.4" stroke="#231f20" stroke-width="1.6" />
<line x1="477.2" y1="102.77" x2="480.5" y2="102.77" stroke="#231f20" stroke-width="1.6" />
<line x1="477.2" y1="286" x2="480.5" y2="286" stroke="#231f20" stroke-width="1.6" />
<line x1="477.2" y1="78.45" x2="479.5" y2="78.45" stroke="#231f20" stroke-width="1.6" />
<line x1="477.2" y1="261.6" x2="479.5" y2="261.6" stroke="#231f20" stroke-width="1.6" />
<line x1="477.2" y1="54.14" x2="480.5" y2="54.14" stroke="#231f20" stroke-width="1.6" />
<line x1="477.2" y1="237.2" x2="480.5" y2="237.2" stroke="#231f20" stroke-width="1.6" />
<line x1="477.2" y1="29.83" x2="479.5" y2="29.83" stroke="#231f20" stroke-width="1.6" />
<line x1="477.2" y1="212.8" x2="479.5" y2="212.8" stroke="#231f20" stroke-width="1.6" />
<line x1="496.86" y1="151.6" x2="496.86" y2="149.6" stroke="#231f20" stroke-width="1.6" />
<line x1="495.58" y1="334.7" x2="495.58" y2="332.7" stroke="#231f20" stroke-width="1.6" />
<line x1="515.22" y1="151.6" x2="515.22" y2="148.6" stroke="#231f20" stroke-width="1.6" />
<line x1="513.96" y1="334.7" x2="513.96" y2="331.7" stroke="#231f20" stroke-width="1.6" />
<line x1="533.58" y1="151.6" x2="533.58" y2="149.6" stroke="#231f20" stroke-width="1.6" />
<line x1="532.34" y1="334.7" x2="532.34" y2="332.7" stroke="#231f20" stroke-width="1.6" />
<line x1="551.94" y1="151.6" x2="551.94" y2="148.6" stroke="#231f20" stroke-width="1.6" />
<line x1="550.72" y1="334.7" x2="550.72" y2="331.7" stroke="#231f20" stroke-width="1.6" />
<line x1="570.3" y1="151.6" x2="570.3" y2="149.6" stroke="#231f20" stroke-width="1.6" />
<line x1="569.1" y1="334.7" x2="569.1" y2="332.7" stroke="#231f20" stroke-width="1.6" />
<line x1="588.66" y1="151.6" x2="588.66" y2="148.6" stroke="#231f20" stroke-width="1.6" />
<line x1="587.48" y1="334.7" x2="587.48" y2="331.7" stroke="#231f20" stroke-width="1.6" />
<line x1="607.02" y1="151.6" x2="607.02" y2="149.6" stroke="#231f20" stroke-width="1.6" />
<line x1="605.86" y1="334.7" x2="605.86" y2="332.7" stroke="#231f20" stroke-width="1.6" />
<line x1="625.38" y1="151.6" x2="625.38" y2="148.6" stroke="#231f20" stroke-width="1.6" />
<line x1="624.24" y1="334.7" x2="624.24" y2="331.7" stroke="#231f20" stroke-width="1.6" />
<line x1="643.74" y1="151.6" x2="643.74" y2="149.6" stroke="#231f20" stroke-width="1.6" />
<line x1="642.62" y1="334.7" x2="642.62" y2="332.7" stroke="#231f20" stroke-width="1.6" />
<line x1="478.7" y1="54.2" x2="660" y2="54.2" stroke="#231f20" stroke-width="1.5" stroke-dasharray="1.5 6.55" stroke-dashoffset="-5.8"/>
<line x1="563.3" y1="9" x2="563.3" y2="148" stroke="#231f20" stroke-width="1.5" stroke-dasharray="1.5 6.55" stroke-dashoffset="0.0"/>
<line x1="478.7" y1="237.3" x2="660" y2="237.3" stroke="#231f20" stroke-width="1.5" stroke-dasharray="1.5 6.55" stroke-dashoffset="-5.8"/>
<line x1="564.5" y1="192" x2="564.5" y2="331" stroke="#231f20" stroke-width="1.5" stroke-dasharray="1.5 6.55" stroke-dashoffset="0.0"/>
<path d="M477.5 76.09 L478 77.9 L478.5 79.66 L479 81.38 L479.5 83.06 L480 84.69 L480.5 86.29 L481 87.85 L481.5 89.37 L482 90.85 L482.5 92.3 L483 93.71 L483.5 95.09 L484 96.43 L484.5 97.75 L485 99.03 L485.5 100.28 L486 101.5 L486.5 102.69 L487 103.85 L487.5 104.99 L488 106.1 L488.5 107.18 L489 108.23 L489.5 109.27 L490 110.27 L490.5 111.26 L491 112.22 L491.5 113.16 L492 114.07 L492.5 114.97 L493 115.84 L493.5 116.69 L494 117.53 L494.5 118.34 L495 119.14 L495.5 119.91 L496 120.67 L496.5 121.41 L497 122.14 L497.5 122.85 L498 123.54 L498.5 124.21 L499 124.87 L499.5 125.52 L500 126.15 L500.5 126.76 L501 127.36 L501.5 127.95 L502 128.53 L502.5 129.09 L503 129.63 L503.5 130.17 L504 130.69 L504.5 131.2 L505 131.7 L505.5 132.19 L506 132.67 L506.5 133.13 L507 133.59 L507.5 134.04 L508 134.47 L508.5 134.9 L509 135.31 L509.5 135.72 L510 136.11 L510.5 136.5 L511 136.88 L511.5 137.25 L512 137.61 L512.5 137.96 L513 138.31 L513.5 138.65 L514 138.98 L514.5 139.3 L515 139.61 L515.5 139.92 L516 140.22 L516.5 140.51 L517 140.8 L517.5 141.08 L518 141.35 L518.5 141.62 L519 141.88 L519.5 142.13 L520 142.38 L520.5 142.62 L521 142.86 L521.5 143.09 L522 143.32 L522.5 143.54 L523 143.75 L523.5 143.96 L524 144.17 L524.5 144.37 L525 144.56 L525.5 144.75 L526 144.94 L526.5 145.12 L527 145.3 L527.5 145.47 L528 145.64 L528.5 145.8 L529 145.96 L529.5 146.12 L530 146.27 L530.5 146.42 L531 146.56 L531.5 146.7 L532 146.84 L532.5 146.97 L533 147.1 L533.5 147.22 L534 147.35 L534.5 147.47 L535 147.58 L535.5 147.7 L536 147.81 L536.5 147.91 L537 148.02 L537.5 148.12 L538 148.21 L538.5 148.31 L539 148.4 L539.5 148.49 L540 148.58 L540.5 148.66 L541 148.74 L541.5 148.82 L542 148.9 L542.5 148.97 L543 149.04 L543.5 149.11 L544 149.18 L544.5 149.24 L545 149.31 L545.5 149.37 L546 149.42 L546.5 149.48 L547 149.53 L547.5 149.59 L548 149.63 L548.5 149.68 L549 149.73 L549.5 149.77 L550 149.81 L550.5 149.85 L551 149.89 L551.5 149.93 L552 149.96 L552.5 150 L553 150.03 L553.5 150.06 L554 150.09 L554.5 150.11 L555 150.14 L555.5 150.16 L556 150.18 L556.5 150.2 L557 150.22 L557.5 150.24 L558 150.25 L558.5 150.27 L559 150.28 L559.5 150.29 L560 150.3 L560.5 150.31 L561 150.32 L561.5 150.33 L562 150.33 L562.5 150.34 L563 150.34 L563.5 150.34 L564 150.34 L564.5 150.34 L565 150.34 L565.5 150.34 L566 150.33 L566.5 150.33 L567 150.32 L567.5 150.31 L568 150.3 L568.5 150.3 L569 150.28 L569.5 150.27 L570 150.26 L570.5 150.25 L571 150.23 L571.5 150.22 L572 150.2 L572.5 150.19 L573 150.17 L573.5 150.15 L574 150.13 L574.5 150.11 L575 150.09 L575.5 150.06 L576 150.04 L576.5 150.02 L577 149.99 L577.5 149.97 L578 149.94 L578.5 149.91 L579 149.89 L579.5 149.86 L580 149.83 L580.5 149.8 L581 149.77 L581.5 149.74 L582 149.71 L582.5 149.67 L583 149.64 L583.5 149.61 L584 149.57 L584.5 149.54 L585 149.5 L585.5 149.46 L586 149.43 L586.5 149.39 L587 149.35 L587.5 149.31 L588 149.27 L588.5 149.23 L589 149.19 L589.5 149.15 L590 149.11 L590.5 149.06 L591 149.02 L591.5 148.98 L592 148.93 L592.5 148.89 L593 148.84 L593.5 148.8 L594 148.75 L594.5 148.71 L595 148.66 L595.5 148.61 L596 148.56 L596.5 148.52 L597 148.47 L597.5 148.42 L598 148.37 L598.5 148.32 L599 148.27 L599.5 148.21 L600 148.16 L600.5 148.11 L601 148.06 L601.5 148 L602 147.95 L602.5 147.9 L603 147.84 L603.5 147.79 L604 147.73 L604.5 147.68 L605 147.62 L605.5 147.57 L606 147.51 L606.5 147.45 L607 147.39 L607.5 147.34 L608 147.28 L608.5 147.22 L609 147.16 L609.5 147.1 L610 147.04 L610.5 146.98 L611 146.92 L611.5 146.86 L612 146.8 L612.5 146.74 L613 146.68 L613.5 146.62 L614 146.55 L614.5 146.49 L615 146.43 L615.5 146.36 L616 146.3 L616.5 146.24 L617 146.17 L617.5 146.11 L618 146.04 L618.5 145.98 L619 145.91 L619.5 145.85 L620 145.78 L620.5 145.72 L621 145.65 L621.5 145.58 L622 145.51 L622.5 145.45 L623 145.38 L623.5 145.31 L624 145.24 L624.5 145.17 L625 145.11 L625.5 145.04 L626 144.97 L626.5 144.9 L627 144.83 L627.5 144.76 L628 144.69 L628.5 144.62 L629 144.55 L629.5 144.47 L630 144.4 L630.5 144.33 L631 144.26 L631.5 144.19 L632 144.11 L632.5 144.04 L633 143.97 L633.5 143.9 L634 143.82 L634.5 143.75 L635 143.68 L635.5 143.6 L636 143.53 L636.5 143.45 L637 143.38 L637.5 143.3 L638 143.23 L638.5 143.15 L639 143.08 L639.5 143 L640 142.92 L640.5 142.85 L641 142.77 L641.5 142.69 L642 142.62 L642.5 142.54 L643 142.46 L643.5 142.38 L644 142.31 L644.5 142.23 L645 142.15 L645.5 142.07 L646 141.99 L646.5 141.91 L647 141.84 L647.5 141.76 L648 141.68 L648.5 141.6 L649 141.52 L649.5 141.44 L650 141.36 L650.5 141.28 L651 141.2 L651.5 141.11 L652 141.03 L652.5 140.95 L653 140.87 L653.5 140.79 L654 140.71 L654.5 140.62 L655 140.54 L655.5 140.46 L656 140.38 L656.5 140.29 L657 140.21 L657.5 140.13 L658 140.05 L658.5 139.96 L659 139.88 L659.5 139.79 L660 139.71 L660.5 139.63 L660.7 139.59" fill="none" stroke="#231f20" stroke-width="1.45" stroke-linejoin="round" />
<path d="M477.5 257.39 L478 259 L478.5 260.57 L479 262.12 L479.5 263.63 L480 265.11 L480.5 266.56 L481 267.99 L481.5 269.39 L482 270.76 L482.5 272.1 L483 273.42 L483.5 274.71 L484 275.97 L484.5 277.21 L485 278.43 L485.5 279.62 L486 280.79 L486.5 281.94 L487 283.06 L487.5 284.16 L488 285.24 L488.5 286.3 L489 287.34 L489.5 288.35 L490 289.35 L490.5 290.33 L491 291.29 L491.5 292.23 L492 293.15 L492.5 294.05 L493 294.93 L493.5 295.8 L494 296.65 L494.5 297.49 L495 298.3 L495.5 299.1 L496 299.89 L496.5 300.66 L497 301.41 L497.5 302.15 L498 302.87 L498.5 303.58 L499 304.28 L499.5 304.96 L500 305.62 L500.5 306.28 L501 306.92 L501.5 307.55 L502 308.16 L502.5 308.77 L503 309.36 L503.5 309.94 L504 310.5 L504.5 311.06 L505 311.6 L505.5 312.14 L506 312.66 L506.5 313.17 L507 313.67 L507.5 314.16 L508 314.64 L508.5 315.11 L509 315.57 L509.5 316.02 L510 316.46 L510.5 316.9 L511 317.32 L511.5 317.73 L512 318.14 L512.5 318.54 L513 318.93 L513.5 319.31 L514 319.68 L514.5 320.04 L515 320.4 L515.5 320.75 L516 321.09 L516.5 321.42 L517 321.75 L517.5 322.07 L518 322.38 L518.5 322.69 L519 322.99 L519.5 323.28 L520 323.56 L520.5 323.84 L521 324.12 L521.5 324.38 L522 324.64 L522.5 324.9 L523 325.15 L523.5 325.39 L524 325.63 L524.5 325.86 L525 326.08 L525.5 326.3 L526 326.52 L526.5 326.73 L527 326.93 L527.5 327.13 L528 327.33 L528.5 327.52 L529 327.71 L529.5 327.89 L530 328.06 L530.5 328.23 L531 328.4 L531.5 328.56 L532 328.72 L532.5 328.88 L533 329.03 L533.5 329.17 L534 329.32 L534.5 329.46 L535 329.59 L535.5 329.72 L536 329.85 L536.5 329.97 L537 330.09 L537.5 330.21 L538 330.32 L538.5 330.43 L539 330.53 L539.5 330.64 L540 330.74 L540.5 330.83 L541 330.93 L541.5 331.02 L542 331.1 L542.5 331.19 L543 331.27 L543.5 331.35 L544 331.42 L544.5 331.49 L545 331.56 L545.5 331.63 L546 331.7 L546.5 331.76 L547 331.82 L547.5 331.87 L548 331.93 L548.5 331.98 L549 332.03 L549.5 332.08 L550 332.12 L550.5 332.16 L551 332.21 L551.5 332.24 L552 332.28 L552.5 332.31 L553 332.35 L553.5 332.38 L554 332.4 L554.5 332.43 L555 332.45 L555.5 332.48 L556 332.5 L556.5 332.51 L557 332.53 L557.5 332.55 L558 332.56 L558.5 332.57 L559 332.58 L559.5 332.59 L560 332.59 L560.5 332.6 L561 332.6 L561.5 332.6 L562 332.6 L562.5 332.6 L563 332.6 L563.5 332.59 L564 332.59 L564.5 332.58 L565 332.57 L565.5 332.56 L566 332.55 L566.5 332.54 L567 332.52 L567.5 332.51 L568 332.49 L568.5 332.47 L569 332.46 L569.5 332.44 L570 332.41 L570.5 332.39 L571 332.37 L571.5 332.34 L572 332.32 L572.5 332.29 L573 332.26 L573.5 332.23 L574 332.21 L574.5 332.17 L575 332.14 L575.5 332.11 L576 332.08 L576.5 332.04 L577 332.01 L577.5 331.97 L578 331.93 L578.5 331.89 L579 331.86 L579.5 331.82 L580 331.78 L580.5 331.73 L581 331.69 L581.5 331.65 L582 331.61 L582.5 331.56 L583 331.52 L583.5 331.47 L584 331.42 L584.5 331.38 L585 331.33 L585.5 331.28 L586 331.23 L586.5 331.18 L587 331.13 L587.5 331.08 L588 331.03 L588.5 330.97 L589 330.92 L589.5 330.87 L590 330.81 L590.5 330.76 L591 330.7 L591.5 330.65 L592 330.59 L592.5 330.54 L593 330.48 L593.5 330.42 L594 330.36 L594.5 330.31 L595 330.25 L595.5 330.19 L596 330.13 L596.5 330.07 L597 330.01 L597.5 329.94 L598 329.88 L598.5 329.82 L599 329.76 L599.5 329.7 L600 329.63 L600.5 329.57 L601 329.51 L601.5 329.44 L602 329.38 L602.5 329.31 L603 329.25 L603.5 329.18 L604 329.12 L604.5 329.05 L605 328.98 L605.5 328.92 L606 328.85 L606.5 328.78 L607 328.72 L607.5 328.65 L608 328.58 L608.5 328.51 L609 328.44 L609.5 328.38 L610 328.31 L610.5 328.24 L611 328.17 L611.5 328.1 L612 328.03 L612.5 327.96 L613 327.89 L613.5 327.82 L614 327.75 L614.5 327.68 L615 327.61 L615.5 327.54 L616 327.47 L616.5 327.39 L617 327.32 L617.5 327.25 L618 327.18 L618.5 327.11 L619 327.04 L619.5 326.96 L620 326.89 L620.5 326.82 L621 326.75 L621.5 326.68 L622 326.6 L622.5 326.53 L623 326.46 L623.5 326.38 L624 326.31 L624.5 326.24 L625 326.17 L625.5 326.09 L626 326.02 L626.5 325.95 L627 325.87 L627.5 325.8 L628 325.73 L628.5 325.65 L629 325.58 L629.5 325.51 L630 325.43 L630.5 325.36 L631 325.29 L631.5 325.21 L632 325.14 L632.5 325.06 L633 324.99 L633.5 324.92 L634 324.84 L634.5 324.77 L635 324.7 L635.5 324.62 L636 324.55 L636.5 324.48 L637 324.4 L637.5 324.33 L638 324.25 L638.5 324.18 L639 324.11 L639.5 324.03 L640 323.96 L640.5 323.89 L641 323.81 L641.5 323.74 L642 323.67 L642.5 323.59 L643 323.52 L643.5 323.45 L644 323.37 L644.5 323.3 L645 323.23 L645.5 323.15 L646 323.08 L646.5 323.01 L647 322.94 L647.5 322.86 L648 322.79 L648.5 322.72 L649 322.65 L649.5 322.57 L650 322.5 L650.5 322.43 L651 322.36 L651.5 322.28 L652 322.21 L652.5 322.14 L653 322.07 L653.5 322 L654 321.93 L654.5 321.85 L655 321.78 L655.5 321.71 L656 321.64 L656.5 321.57 L657 321.5 L657.5 321.43 L658 321.36 L658.5 321.29 L659 321.21 L659.5 321.14 L660 321.07 L660.5 321 L660.7 320.98" fill="none" stroke="#231f20" stroke-width="1.45" stroke-linejoin="round" />
<text x="69.5" y="9.6" font-size="14.3" text-anchor="end" >1.0</text>
<text x="69.5" y="62.1" font-size="14.3" text-anchor="end" >0.5</text>
<text x="69.5" y="115" font-size="14.3" text-anchor="end" >0.0</text>
<text x="69.5" y="157.2" font-size="14.3" text-anchor="end" >0.010</text>
<text x="69.5" y="198.8" font-size="14.3" text-anchor="end" >0.008</text>
<text x="69.5" y="248" font-size="14.3" text-anchor="end" >8.0E-7</text>
<text x="69.5" y="269.9" font-size="14.3" text-anchor="end" >4.0E-7</text>
<text x="69.5" y="291.3" font-size="14.3" text-anchor="end" >0.0</text>
<text x="69.5" y="312.8" font-size="14.3" text-anchor="end" >-4.0E-7</text>
<text x="69.5" y="334.2" font-size="14.3" text-anchor="end" >-8.0E-7</text>
<text x="73" y="349.8" font-size="14.3" text-anchor="middle" >0</text>
<text x="155.8" y="349.8" font-size="14.3" text-anchor="middle" >2</text>
<text x="238.6" y="349.8" font-size="14.3" text-anchor="middle" >4</text>
<text x="321.2" y="349.8" font-size="14.3" text-anchor="middle" >6</text>
<text x="403.8" y="349.8" font-size="14.3" text-anchor="middle" >8</text>
<text x="238.4" y="383" font-size="19" text-anchor="middle"><tspan font-style="italic">t</tspan>(s)</text>
<text x="91.5" y="29.4" font-size="19" text-anchor="middle" >(a)</text>
<text x="91.6" y="135.4" font-size="19" text-anchor="middle" >(b)</text>
<text x="91.1" y="243.4" font-size="19" text-anchor="middle" >(c)</text>
<text x="496" y="27.8" font-size="18.5" text-anchor="middle" >(d)</text>
<text x="498" y="213" font-size="18.5" text-anchor="middle" >(e)</text>
<text x="109.56" y="132.9" font-size="18.5" font-style="italic">t</text>
<text x="115.48" y="138.8" font-size="11.3">1</text>
<text x="132.26" y="132.9" font-size="18.5" font-style="italic">t</text>
<text x="137.55" y="138.5" font-size="11.3">2</text>
<text x="193.16" y="131.4" font-size="18.5" font-style="italic">t</text>
<text x="198.37" y="137.9" font-size="11.3">4</text>
<text x="151.56" y="240.8" font-size="18.5" font-style="italic">t</text>
<text x="157.1" y="246.8" font-size="11.3" font-style="italic">3</text>
<text x="220.96" y="241.6" font-size="18.5" font-style="italic">t</text>
<text x="226.57" y="247.9" font-size="11.3" font-style="italic">5</text>
<text x="568.16" y="80.8" font-size="18.5" font-style="italic">t</text>
<text x="573.48" y="86.8" font-size="11.3">1</text>
<text x="569.26" y="260.9" font-size="18.5" font-style="italic">t</text>
<text x="574.77" y="267.7" font-size="11.3">4</text>
<text x="407.3" y="115.6" font-size="25" font-style="italic">C</text>
<text x="423.17" y="123.6" font-size="12.8">th</text>
<text x="664.29" y="60" font-size="18.5" font-style="italic">C</text>
<text x="676.59" y="67.1" font-size="10.8">th</text>
<text x="663.19" y="244.2" font-size="18.5" font-style="italic">C</text>
<text x="675.39" y="250.4" font-size="10.8">th</text>
<text x="475.2" y="154.8" font-size="9.8" text-anchor="end" >0.005</text>
<text x="475.2" y="106.17" font-size="9.8" text-anchor="end" >0.010</text>
<text x="475.2" y="57.54" font-size="9.8" text-anchor="end" >0.015</text>
<text x="475.2" y="8.91" font-size="9.8" text-anchor="end" >0.020</text>
<text x="475.2" y="338.2" font-size="9.8" text-anchor="end" >0.005</text>
<text x="475.2" y="289.4" font-size="9.8" text-anchor="end" >0.010</text>
<text x="475.2" y="240.6" font-size="9.8" text-anchor="end" >0.015</text>
<text x="475.2" y="191.8" font-size="9.8" text-anchor="end" >0.020</text>
<text x="496.86" y="161.6" font-size="9.8" text-anchor="middle" >0.8</text>
<text x="533.58" y="161.6" font-size="9.8" text-anchor="middle" >1.0</text>
<text x="570.3" y="161.6" font-size="9.8" text-anchor="middle" >1.2</text>
<text x="607.02" y="161.6" font-size="9.8" text-anchor="middle" >1.4</text>
<text x="643.74" y="161.6" font-size="9.8" text-anchor="middle" >1.6</text>
<text x="477.2" y="344.7" font-size="9.8" text-anchor="middle" >2.4</text>
<text x="513.96" y="344.7" font-size="9.8" text-anchor="middle" >2.6</text>
<text x="550.72" y="344.7" font-size="9.8" text-anchor="middle" >2.8</text>
<text x="587.48" y="344.7" font-size="9.8" text-anchor="middle" >3.0</text>
<text x="624.24" y="344.7" font-size="9.8" text-anchor="middle" >3.2</text>
<text x="661" y="344.7" font-size="9.8" text-anchor="middle" >3.4</text>
<text x="567.1" y="176.0" font-size="12.7" text-anchor="middle"><tspan font-style="italic">t</tspan>(s)</text>
<text x="571.9" y="358.3" font-size="12.7" text-anchor="middle"><tspan font-style="italic">t</tspan>(s)</text>
<text transform="translate(18 69.2) rotate(-90)" font-size="19.5" text-anchor="middle"><tspan font-style="italic">C</tspan><tspan font-size="11" dy="5.6">Ca</tspan></text>
<text transform="translate(17.3 164.8) rotate(-90)" font-size="19" text-anchor="middle"><tspan font-style="italic">D</tspan>(cm)</text>
<text transform="translate(17.4 263) rotate(-90)" font-size="19" text-anchor="middle"><tspan font-style="italic">Q</tspan>(cm<tspan font-size="11" dy="-8">3</tspan><tspan dy="8">/s)</tspan></text>
<text transform="translate(436.3 69.5) rotate(-90)" font-size="14" text-anchor="middle"><tspan font-style="italic">C</tspan><tspan font-size="8" dy="4.3">Ca</tspan></text>
<text transform="translate(442.7 260.9) rotate(-90)" font-size="14" text-anchor="middle"><tspan font-style="italic">C</tspan><tspan font-size="8" dy="4.3">Ca</tspan></text>
</svg>
</body></html>
